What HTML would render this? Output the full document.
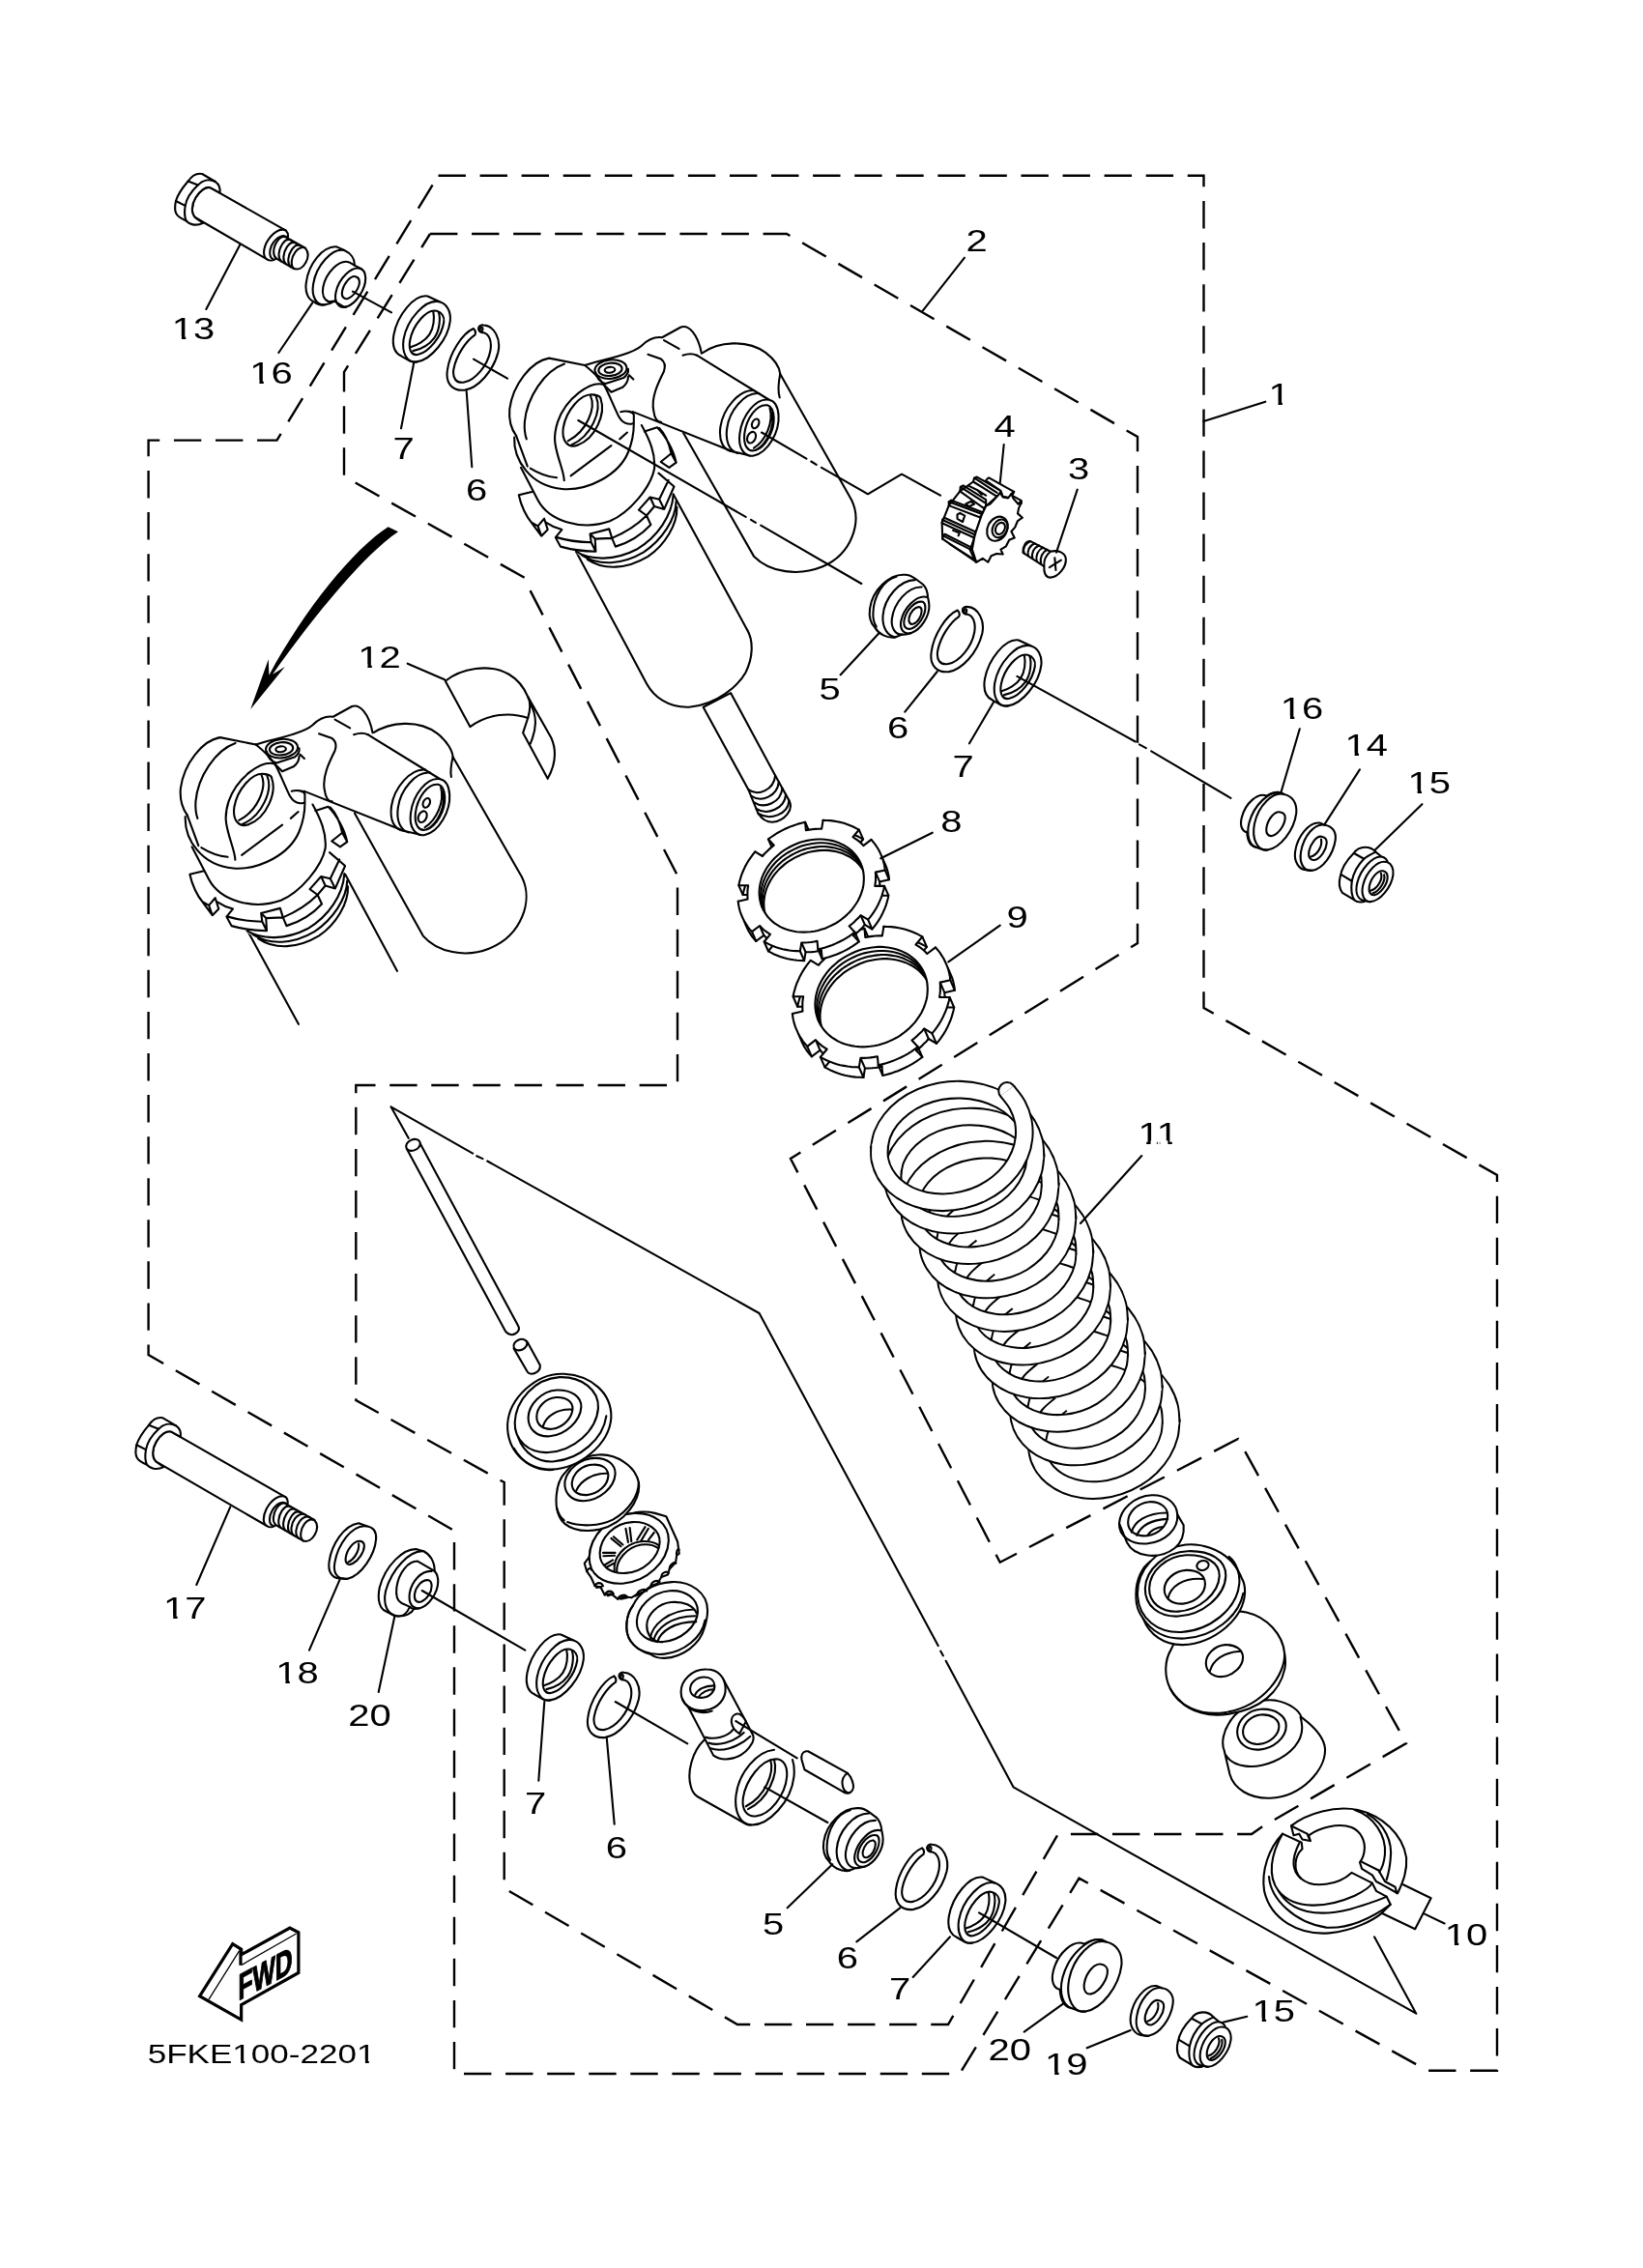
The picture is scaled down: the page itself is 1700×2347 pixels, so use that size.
<!DOCTYPE html>
<html><head><meta charset="utf-8"><title>Rear Suspension</title>
<style>
html,body{margin:0;padding:0;background:#fff;}
body{width:1700px;height:2347px;overflow:hidden;font-family:"Liberation Sans",sans-serif;}
svg{display:block;}
svg *{vector-effect:non-scaling-stroke;}
.s{fill:none;stroke:#000;stroke-width:2.1;stroke-linecap:round;stroke-linejoin:round;}
.w{fill:#fff;stroke:#000;stroke-width:2.1;stroke-linecap:round;stroke-linejoin:round;}
.d{fill:none;stroke:#000;stroke-width:2.4;stroke-dasharray:28.4 14.67;stroke-linecap:butt;stroke-linejoin:miter;}
.t{font-family:"Liberation Sans",sans-serif;font-size:31px;fill:#000;text-anchor:middle;}
text{filter:grayscale(1);}
</style></head><body>
<svg width="1700" height="2347" viewBox="0 0 1700 2347">
<rect width="1700" height="2347" fill="#fff"/>
<!-- bolts 13 / 17 : coords 10.27x zoom of region 180,170 -->
<defs>
<g id="bolthead" class="s">
 <path class="w" d="M440,185 L300,103 C240,90 185,130 150,180 C90,250 35,340 20,390 C8,450 8,490 22,520 C35,550 80,580 130,600 C160,640 230,660 310,625 L225,565 C180,520 185,430 230,355 C275,280 340,235 385,248 L488,305 C495,250 470,205 440,185 Z"/>
 <path d="M440,185 C370,150 300,175 255,220 C180,290 130,380 120,440 C108,510 112,560 130,600"/>
 <path d="M150,180 L255,220 M20,390 L120,440"/>
</g>
<g id="boltend" class="s">
 <path class="w" d="M1190,705 C1215,730 1215,760 1208,785 L1395,890 C1430,930 1430,990 1400,1045 C1370,1100 1320,1125 1275,1110 L1085,1000 C1060,1025 1020,1030 990,1010 C945,985 945,910 985,830 C1040,730 1130,670 1190,705 Z"/>
 <path d="M1208,785 C1170,735 1090,770 1045,850 C1010,910 1010,985 1048,1005"/>
 <path d="M1085,1000 C1045,965 1055,880 1095,820 C1125,775 1165,755 1200,780"/>
 <path d="M1140,1030 C1100,995 1110,910 1150,850 C1180,805 1215,790 1245,808"/>
 <path d="M1190,1060 C1150,1025 1160,940 1200,880 C1230,835 1265,820 1295,838"/>
 <path d="M1240,1090 C1200,1055 1210,970 1250,910 C1280,865 1315,850 1345,866"/>
 <path d="M1275,1110 C1235,1075 1245,990 1290,930 C1320,888 1365,875 1395,890"/>
</g>
</defs>
<g transform="translate(180,170) scale(0.09738)">
 <path class="w" d="M385,248 L1190,705 L990,1010 L225,565 C180,520 185,430 230,355 C275,280 340,235 385,248 Z"/>
 <use href="#bolthead"/><use href="#boltend"/>
</g>
<g transform="translate(139.3,1457.3) scale(0.09738)">
 <path class="w" d="M385,248 L1605,945 L1405,1250 L225,565 C180,520 185,430 230,355 C275,280 340,235 385,248 Z"/>
 <use href="#bolthead"/><use href="#boltend" transform="translate(415,240)"/>
 <g transform="translate(415,240)" class="s">
  <path class="w" d="M1395,890 L1495,948 C1530,988 1530,1048 1500,1103 C1470,1158 1420,1183 1375,1168 L1275,1110"/>
  <path d="M1325,1139 C1285,1104 1295,1019 1340,959 C1370,917 1415,904 1445,919 M1375,1168 C1335,1133 1345,1048 1390,988 C1420,946 1465,933 1495,948"/>
 </g>
</g>

<!-- collar16 / ring7 / circlip6 : coords in 6.846x zoom of region 300,240 -->
<defs>
<g id="collar16" class="s">
 <path class="w" d="M330,105 C230,100 130,230 115,360 C105,430 130,480 170,495 C190,515 225,522 250,515 C270,513 300,500 315,490 L380,530 C385,532 392,532 400,530 C470,510 540,400 535,320 C533,290 520,270 505,262 L458,237 C460,190 430,150 385,130 Z"/>
 <path d="M385,130 C300,110 185,240 165,370 C150,460 190,525 250,515"/>
 <path d="M458,237 L420,215 C350,190 255,290 235,390 C225,440 240,480 275,495 L315,490"/>
 <path d="M505,262 C440,235 345,330 325,430 C310,500 350,545 400,530"/>
 <path d="M470,318 C430,300 380,370 370,420 C362,460 385,480 410,472 C450,458 495,395 492,350 C491,335 483,323 470,318 Z"/>
</g>
<g id="ring7" class="s">
 <path class="w" d="M975,455 C880,440 760,590 735,730 C722,810 745,860 790,880 L850,915 C865,922 882,923 900,920 C1000,905 1120,760 1135,630 C1142,560 1110,510 1060,495 Z"/>
 <path d="M1060,495 C960,470 830,620 805,760 C790,860 830,930 900,920"/>
 <path d="M1040,560 C970,540 870,660 850,770 C838,840 865,880 910,868 C985,850 1075,740 1090,640 C1096,600 1075,570 1040,560 Z"/>
 <path d="M1015,563 C1025,610 1020,680 988,727 C960,770 900,805 854,817 M1053,569 C1068,610 1060,700 1023,750 C990,795 930,830 872,843"/>
</g>
<g id="clip6" class="s">
 <path d="M1300,685 C1220,720 1130,860 1115,980 C1100,1080 1160,1130 1240,1120 C1330,1105 1440,990 1475,850 C1495,760 1450,665 1370,660 C1345,657 1330,675 1338,695 C1345,712 1360,715 1368,712 C1410,722 1432,770 1420,840 C1400,950 1310,1050 1235,1065 C1180,1075 1148,1040 1160,970 C1180,870 1250,770 1310,730 C1316,718 1314,698 1300,685 Z"/>
 <ellipse cx="1356" cy="690" rx="9" ry="15" transform="rotate(15 1356 690)"/>
</g>
</defs>
<use href="#collar16" transform="translate(300,240) scale(0.14607)"/>
<use href="#ring7" transform="translate(300,240) scale(0.14607)"/>
<use href="#clip6" transform="translate(300,240) scale(0.14607)"/>

<!-- main shock: reservoir (U coords), body+rod (R coords: 6.846x of 640,620) -->
<g class="s">
 <g transform="translate(500,320) scale(0.24346)">
  <path class="w" d="M928,188 C1000,136 1120,128 1200,184 C1240,215 1260,250 1262,275 L1565,810 C1610,900 1570,1040 1440,1095 C1340,1135 1220,1120 1150,1050 L850,525 Z"/>
  <path d="M1262,275 C1255,310 1250,345 1260,375"/>
 </g>
 <g transform="translate(640,620) scale(0.14607)">
  <path class="w" d="M600,765 L920,1350 L990,1520 C1010,1550 1040,1580 1090,1580 C1180,1570 1240,1490 1210,1430 L1110,1250 L795,665 Z"/>
  <path d="M920,1350 C990,1400 1100,1350 1110,1250 M942,1395 C1012,1445 1125,1395 1135,1295 M960,1440 C1035,1490 1150,1440 1160,1340 M975,1485 C1055,1535 1175,1485 1185,1385 M990,1520 C1075,1570 1200,1525 1208,1428"/>
  <path class="w" d="M-301,-337 L200,600 C250,690 350,770 500,765 C700,750 850,610 900,520 C950,420 960,300 910,215 L388,-742 Z"/>
 </g>
</g>
<!-- inset (12) : reservoir, body (V coords: 4.1075x of 165,720), band (B coords: 6.846x of 360,540) -->
<g class="s">
 <g transform="translate(165,720) scale(0.24346)">
  <path class="w" d="M905,160 C980,110 1100,100 1180,160 C1225,195 1245,235 1247,260 L1540,770 C1590,870 1540,1020 1400,1075 C1300,1115 1180,1090 1120,1020 L830,500 Z"/>
  <path d="M1247,260 C1240,290 1235,320 1240,345"/>
  <path class="w" stroke-linecap="butt" d="M591,1396 L375,1000 L790,760 L1010,1170" style="fill:#fff"/>
 </g>
 <g transform="translate(360,540) scale(0.14607)">
  <path class="w" d="M690,1128 C800,1040 1000,1000 1140,1080 C1200,1115 1250,1180 1275,1240 L1440,1530 C1480,1620 1470,1720 1415,1820 L1240,1495 L1275,1390 C1150,1345 990,1360 865,1452 Z"/>
  <path d="M1275,1240 C1300,1290 1290,1340 1275,1390 M1290,1285 C1345,1380 1335,1470 1292,1572"/>
 </g>
</g>
<!-- curved arrow (A coords: 9.128x of 240,530) -->
<g transform="translate(240,530) scale(0.10956)">
 <path fill="#000" stroke="none" d="M1475,140 L1570,185 C1250,400 800,950 385,1530 L500,1460 L175,1862 L345,1390 L350,1540 C700,900 1150,350 1475,140 Z"/>
</g>

<!-- shock head (used twice). U coords: 4.1075x of region 500,320 ; N coords: 6.846x of region 520,440 -->
<defs>
<g id="head" class="s">
 <g transform="translate(500,320) scale(0.24346)">
  <!-- silhouette fill -->
  <path fill="#fff" stroke="none" d="M432,238 L280,208 C205,220 125,320 112,425 C108,470 120,510 140,538 L200,770 L260,880 L400,1040 C500,1110 700,1080 815,850 L810,800 L730,640 L640,445 L1055,603 C1120,640 1260,560 1255,450 C1252,410 1240,390 1215,385 L928,188 C912,104 872,64 840,76 L760,120 C728,116 696,132 672,156 C640,184 560,204 480,224 Z"/>
  <path d="M432,238 L280,208 C205,220 125,320 112,425 C108,470 120,510 140,538"/>
  <path d="M345,232 C260,262 185,375 176,480 C174,510 178,535 184,552 M140,538 L188,668"/>
  <path d="M200,676 C232,696 272,712 312,716"/>
  <path d="M512,320 C456,304 352,376 316,480 C296,544 304,576 320,632 C332,672 344,704 344,728"/>
  <path d="M432,238 C464,264 496,296 512,320 C528,344 552,408 576,456 C592,484 616,492 636,486"/>
  <!-- eye hole -->
  <path d="M472,364 C416,352 352,432 340,504 C332,560 360,592 400,578"/>
  <path d="M456,368 C480,420 440,520 360,560 M480,372 C505,430 460,540 376,576 M472,364 C490,366 500,375 500,384 C520,440 480,550 400,578"/>
  <path d="M372,708 L544,580 M580,552 L612,524"/>
  <!-- body top ellipse -->
  <path d="M132,544 C128,640 200,752 336,764 C448,772 576,704 616,608 C632,568 640,528 640,488 M584,436 C610,430 635,435 640,448 L640,488"/>
  <!-- boss -->
  <ellipse cx="542" cy="255" rx="68" ry="40" transform="rotate(-6 542 255)"/>
  <ellipse cx="540" cy="256" rx="50" ry="27" transform="rotate(-6 540 256)"/>
  <ellipse cx="538" cy="258" rx="22" ry="12" transform="rotate(-6 538 258)"/>
  <path d="M478,268 C480,290 495,310 520,316 L596,292 C612,280 618,268 616,254 M512,320 L544,352 L592,332 C608,320 616,304 616,288 M620,280 L638,298"/>
  <!-- neck -->
  <path d="M432,238 L480,224 C560,204 640,184 672,156 C696,132 728,116 760,120 L840,76 C872,64 912,104 928,188"/>
  <path d="M768,132 L832,168 M848,196 C872,188 892,188 908,196"/>
  <path d="M700,192 L756,212 C772,224 776,240 768,264 C744,312 712,376 724,432 C728,464 740,480 756,480"/>
  <!-- tube -->
  <path d="M908,196 L1150,345 M636,436 L1055,603"/>
  <path d="M1150,345 C1090,340 1020,420 1008,500 C1000,560 1020,600 1060,605"/>
  <path d="M1172,358 C1112,352 1046,430 1036,506 C1028,560 1045,602 1082,612"/>
  <path d="M1150,345 L1215,385 M1060,605 L1135,622"/>
  <path class="w" d="M1215,385 C1160,375 1100,450 1090,530 C1082,590 1110,630 1150,622 C1210,610 1260,520 1255,450 C1252,410 1240,390 1215,385 Z"/>
  <path d="M1207,408 C1162,402 1118,465 1110,530 C1105,580 1125,608 1155,600 C1200,588 1238,515 1235,460 C1233,430 1225,413 1207,408 Z"/>
  <path d="M1218,420 C1235,480 1200,560 1150,590 M1228,440 C1240,500 1205,575 1160,598"/>
  <ellipse cx="1157" cy="486" rx="14" ry="21" transform="rotate(25 1157 486)"/>
  <ellipse cx="1140" cy="545" rx="17" ry="25" transform="rotate(25 1140 545)"/>
 </g>
 <g transform="translate(520,440) scale(0.14607)">
  <path d="M130,300 L250,530 C330,680 560,750 760,680 C900,620 1050,440 1075,310 C1085,200 1040,100 985,0"/>
  <path d="M215,470 L115,495 C130,570 170,650 205,690 L275,785 L320,740 L295,662 L250,715 L275,785 M205,690 L250,715"/>
  <path d="M310,690 C340,710 380,730 420,740 L375,795 L410,860 C480,880 570,893 660,895 L655,805 L620,770 L628,830 L660,895 M385,795 C450,815 540,828 628,830 M620,770 L755,735 L775,800 L655,805 M775,800 L800,860 C900,830 990,770 1050,705 L1020,640 C960,700 870,760 775,800"/>
  <path d="M1020,640 L965,600 L1045,510 L1110,525 L1145,595 L1075,575 L1045,510 M1075,575 L1020,640 M1110,525 L1175,390 M1145,595 L1215,435 L1105,340"/>
  <path d="M520,895 C620,960 800,960 950,880 C1100,790 1200,640 1210,490 M560,920 C680,1000 850,990 1000,900 C1130,810 1225,670 1230,540 M600,950 C720,1030 880,1020 1030,930 C1150,850 1240,700 1235,580"/>
  <path d="M1005,45 L1095,15 C1150,70 1210,170 1230,265 L1180,300 L1120,260 L1195,200 C1180,130 1150,60 1110,20 M1195,200 L1230,265"/>
 </g>
</g>
</defs>
<use href="#head"/>
<use href="#head" transform="translate(-340.4,392.5)"/>

<!-- knob 4 + screw 3 : K coords 9.128x of 950,470 -->
<g class="s" transform="translate(950,470) scale(0.10956)">
 <!-- back bars -->
 <path class="w" d="M520,260 L530,225 L555,215 L780,345 L770,380 L745,400 Z"/>
 <path class="w" d="M640,250 L650,235 L668,222 L905,355 L890,390 L860,410 L800,400 L780,345 Z"/>
 <path class="w" d="M395,350 L400,310 L425,295 L640,430 L640,490 L620,510 Z"/>
 <path class="w" d="M290,485 L290,450 L312,435 L600,545 L600,575 L580,595 Z"/>
 <path class="w" d="M225,650 L230,620 L247,600 L545,735 L530,790 Z"/>
 <path class="w" d="M230,800 L235,770 L252,755 L500,880 L490,905 L545,1020 L530,1005 Z"/>
 <path d="M530,225 L745,365 M400,310 L625,455 M290,450 L585,560 M230,620 L535,760 M235,770 L495,900 M300,850 L520,990"/>
 <path d="M520,260 L395,350 M395,350 L290,485 M290,485 L225,650 M225,650 L230,800 M640,490 L745,400 M600,575 L640,490 M545,735 L600,575 M500,880 L530,790"/>
 <path d="M450,470 L500,445 L530,470 L480,495 Z M370,570 L395,555 L440,580 L420,640 L370,610 Z M480,300 L560,340 L600,380 M560,340 L640,390 M330,720 L390,745 L380,770"/>
 <!-- front face -->
 <path class="w" d="M775,365 L800,405 L850,415 L880,375 L900,420 L945,470 L975,460 L950,510 L940,560 L985,600 L940,630 L915,690 L880,730 L910,790 L860,810 L830,870 L780,900 L800,945 L740,940 L690,960 L660,1020 L610,985 L550,1020 L510,900 L530,790 L545,735 L600,575 L640,490 L680,470 L745,400 Z"/>
 <path d="M880,375 L905,355 M945,470 L975,440 L905,400 M975,440 L975,460"/>
 <ellipse cx="748" cy="705" rx="92" ry="120" transform="rotate(28 748 705)"/>
 <ellipse cx="772" cy="702" rx="68" ry="90" transform="rotate(28 772 702)"/>
 <ellipse cx="775" cy="702" rx="42" ry="58" transform="rotate(28 775 702)"/>
 <!-- screw -->
 <path class="w" d="M1250,920 L1060,822 C1020,815 985,870 990,930 L1190,1060 Z"/>
 <path d="M1060,822 C1010,845 985,890 1000,935 M1100,842 C1050,865 1028,915 1040,960 M1140,862 C1090,885 1068,935 1080,985 M1180,882 C1130,905 1108,960 1120,1010 M1220,902 C1170,925 1148,980 1160,1035"/>
 <path class="w" d="M1250,920 C1320,900 1390,930 1395,990 C1400,1060 1330,1160 1250,1165 C1200,1165 1185,1110 1190,1060 C1185,1010 1205,955 1250,920 Z"/>
 <path d="M1240,1070 L1350,1000 M1290,980 L1300,1095"/>
</g>

<!-- bushing 5 : coords 7.468x of 880,580 -->
<defs>
<g id="bush5" class="s" transform="translate(880,580) scale(0.13390)">
 <path class="w" d="M415,110 C300,105 170,230 150,370 C140,440 160,490 190,520 C220,570 280,600 340,595 L400,572 C420,575 445,570 470,560 C545,535 610,430 608,350 C607,315 600,295 598,285 C596,250 585,210 560,185 L500,140 C480,125 450,108 415,110 Z"/>
 <path d="M355,125 C250,150 180,280 175,400 C172,450 185,490 200,512"/>
 <path d="M500,150 C380,150 260,290 250,430 C245,520 290,590 350,592"/>
 <path d="M550,205 C440,200 335,330 320,450 C312,520 345,575 400,572"/>
 <path d="M592,283 C510,260 410,370 390,470 C378,540 420,575 470,560"/>
 <path d="M560,320 C500,305 430,385 415,460 C405,515 435,540 475,525 C530,505 580,420 578,360 C577,340 572,327 560,320 Z"/>
 <path d="M535,360 C500,352 462,400 452,445 C446,480 462,498 488,490 C522,478 550,425 550,390 C550,375 545,364 535,360 Z"/>
</g>
</defs>
<use href="#bush5"/>
<use href="#clip6" transform="translate(800.8,531.5) scale(0.14607)"/>
<use href="#ring7" transform="translate(911.6,596) scale(0.14607)"/>

<!-- collar16 (right, flange front), washer 14, nut 15 : W coords 9.128x of 1270,800 -->
<defs>
<g id="collarR" class="s">
 <path class="w" d="M370,215 C290,180 170,280 135,420 C115,500 140,550 185,560 C190,640 220,690 270,700 L330,722 C345,727 362,728 380,725 C500,705 630,540 650,380 C660,280 610,215 535,200 L505,185 C460,175 410,190 370,215 Z"/>
 <path d="M505,185 C400,160 250,300 205,470 C175,590 210,680 270,700"/>
 <path d="M535,200 C430,170 290,310 255,480 C225,630 290,740 380,725"/>
 <path d="M500,370 C450,355 385,430 370,510 C358,575 390,605 430,590 C490,570 545,480 545,420 C545,395 525,375 500,370 Z"/>
</g>
<g id="washer14" class="s">
 <path class="w" d="M870,470 C770,460 660,600 640,740 C625,840 680,910 740,915 L800,920 C900,905 1000,770 1020,630 C1030,550 985,500 920,490 Z"/>
 <path d="M920,490 C820,470 720,600 695,740 C675,850 720,930 800,920"/>
 <path d="M890,600 C840,590 785,670 770,740 C760,800 790,830 830,820 C885,800 935,720 938,660 C940,625 920,605 890,600 Z"/>
 <path d="M885,625 C900,690 850,770 790,790"/>
</g>
<g id="nut15" class="s">
 <path class="w" d="M1300,700 C1250,700 1210,730 1190,760 C1120,830 1075,920 1065,980 C1050,1040 1055,1090 1085,1130 L1200,1200 C1230,1225 1280,1222 1310,1205 C1320,1212 1335,1216 1350,1215 C1440,1210 1550,1080 1565,960 C1572,900 1545,855 1515,845 C1505,810 1480,795 1455,790 L1400,745 C1380,720 1340,700 1300,700 Z"/>
 <path d="M1200,760 L1290,810 M1075,960 L1175,1020"/>
 <path d="M1400,745 C1350,770 1310,790 1290,810 C1230,870 1190,950 1175,1020 C1165,1100 1170,1160 1200,1200"/>
 <path d="M1455,790 C1380,780 1260,900 1225,1040 C1205,1130 1230,1190 1290,1205"/>
 <path d="M1500,840 C1420,820 1310,930 1280,1060 C1260,1150 1290,1215 1350,1215"/>
 <path d="M1470,925 C1420,915 1355,990 1340,1070 C1330,1130 1355,1160 1395,1150 C1450,1135 1510,1050 1512,985 C1513,950 1495,930 1470,925 Z"/>
 <path d="M1450,945 C1470,1000 1420,1090 1355,1110 M1480,960 C1495,1020 1440,1110 1375,1135"/>
</g>
</defs>
<g transform="translate(1270,800) scale(0.10956)"><use href="#collarR"/><use href="#washer14"/><use href="#nut15"/></g>

<!-- washer 18, collar 20 (left) : BL coords 4.832x of 130,1450 -->
<defs>
<g id="collar20" class="s">
 <path class="w" d="M1455,740 C1390,735 1300,820 1270,930 C1255,1000 1275,1040 1300,1050 L1345,1073 C1375,1080 1400,1075 1420,1030 C1435,1040 1452,1040 1470,1035 C1515,1025 1560,960 1562,905 C1563,875 1550,855 1545,850 C1545,800 1520,765 1490,750 Z"/>
 <path d="M1490,750 C1420,745 1330,840 1300,950 C1285,1020 1310,1070 1360,1075 C1400,1078 1430,1060 1440,1040"/>
 <path d="M1545,850 L1460,800 C1410,800 1365,860 1355,930 C1350,970 1360,1000 1380,1010 L1425,1030"/>
 <path d="M1530,850 C1480,845 1430,900 1420,960 C1412,1010 1435,1040 1470,1035"/>
 <path d="M1515,895 C1480,890 1450,930 1445,965 C1441,995 1455,1010 1478,1003 C1505,993 1530,955 1530,925 C1530,908 1525,898 1515,895 Z"/>
</g>
<g id="washer18" class="s">
 <path class="w" d="M1165,610 C1090,620 1030,720 1018,800 C1010,850 1030,880 1060,885 L1110,888 C1180,870 1245,770 1252,690 C1255,650 1235,630 1205,625 Z"/>
 <path d="M1205,625 C1130,615 1060,720 1045,810 C1035,870 1070,895 1110,888"/>
 <path d="M1175,700 C1140,695 1105,745 1100,785 C1097,815 1115,822 1135,812 C1165,795 1192,755 1193,725 C1193,710 1187,702 1175,700 Z"/>
 <path d="M1165,712 C1170,745 1145,790 1112,805"/>
</g>
</defs>
<g transform="translate(130,1450) scale(0.20694)"><use href="#washer18"/><use href="#collar20"/></g>

<!-- middle stack: M coords 5.968x of 500,1400 -->
<g class="s" transform="translate(500,1400) scale(0.16755)">
 <!-- P4 threaded collar -->
 <path class="w" d="M1165,1415 C1280,1410 1385,1480 1385,1590 C1385,1640 1375,1670 1365,1700 C1340,1800 1230,1880 1120,1885 C1080,1886 1050,1875 1035,1862 C990,1850 940,1825 910,1780 C870,1720 880,1620 925,1560 C960,1480 1050,1420 1165,1415 Z"/>
 <path d="M925,1560 C880,1620 870,1720 910,1780 C950,1840 1030,1870 1120,1860 C1240,1845 1350,1760 1370,1650"/>
 <path class="w" d="M1150,1470 C1040,1480 950,1570 948,1660 C947,1740 1020,1790 1110,1785 C1220,1775 1320,1690 1325,1600 C1328,1520 1250,1462 1150,1470 Z"/>
 <path d="M1160,1540 C1080,1548 1012,1615 1010,1680 C1009,1740 1040,1770 1075,1785 M1160,1540 C1235,1533 1300,1560 1318,1610"/>
 <path d="M1030,1770 C1040,1680 1140,1590 1300,1585 M1050,1780 C1070,1700 1160,1625 1312,1625 M1075,1785 C1095,1720 1180,1660 1315,1660"/>
 <!-- P3 toothed ring -->
 <path class="w" d="M625,1300 L640,1350 L665,1385 L690,1440 L725,1448 L750,1495 L790,1488 L830,1520 L870,1505 L915,1512 L950,1490 L990,1475 L1035,1440 L1075,1425 L1100,1385 L1140,1370 L1150,1335 L1188,1295 L1195,1250 L1210,1240 L1200,1165 L1130,1010 L1060,990 C1000,975 940,985 930,990 C780,1000 660,1130 655,1260 Z"/>
 <path d="M690,1440 C700,1415 730,1415 740,1440 M750,1495 C765,1465 795,1465 805,1490 M830,1520 C845,1490 880,1490 890,1510 M950,1490 C960,1460 1000,1455 1010,1470 M1035,1440 C1040,1410 1075,1400 1090,1415 M1100,1385 C1100,1355 1135,1345 1145,1360 M1150,1335 C1150,1305 1180,1290 1190,1300 M1195,1250 C1190,1225 1200,1210 1210,1215 M640,1350 C645,1330 660,1325 668,1340 M700,1450 L740,1440 M770,1500 L800,1490 M850,1520 L890,1512 M940,1502 L965,1490"/>
 <path class="w" d="M930,990 C780,1000 660,1130 655,1260 C652,1370 740,1430 860,1425 C1010,1415 1140,1290 1145,1160 C1148,1060 1060,985 930,990 Z"/>
 <path d="M920,1045 C810,1050 725,1140 720,1235 C717,1320 790,1365 880,1360 C990,1352 1085,1265 1090,1170 C1093,1095 1020,1040 920,1045 Z"/>
 <path d="M810,1345 C800,1270 870,1180 970,1165 C1020,1160 1060,1170 1085,1190 M825,1352 C818,1285 885,1200 975,1185 C1020,1180 1055,1188 1078,1205"/>
 <path d="M880,1085 L895,1170 M905,1080 L915,1165 M1000,1075 L950,1155 M1020,1085 L975,1160 M1055,1110 L1020,1155 M790,1145 L850,1195 M805,1135 L862,1185 M740,1235 L815,1235 M742,1255 L812,1252 M750,1310 L800,1280 M760,1325 L805,1300"/>
 <!-- P2 cup -->
 <path class="w" d="M710,630 C820,620 940,700 960,800 C975,900 880,1050 720,1090 C600,1115 500,1080 470,1010 C440,950 440,800 510,735 C560,670 640,635 710,630 Z"/>
 <path d="M520,1045 C600,1075 720,1070 800,1030 C900,975 960,880 960,800 M455,960 C465,1000 480,1020 500,1035"/>
 <path class="w" d="M690,650 C600,650 520,720 505,790 C495,860 540,915 620,915 C720,910 810,830 815,750 C818,690 770,650 690,650 Z"/>
 <path d="M680,690 C610,690 555,745 548,800 C543,850 580,880 640,878 C710,872 770,815 772,760 C773,715 735,688 680,690 Z"/>
 <path d="M575,850 C600,790 680,740 770,745"/>
 <!-- P1 large cup washer -->
 <path class="w" d="M500,130 C330,120 160,280 150,440 C145,600 260,720 420,720 C600,715 780,560 790,400 C795,250 670,140 500,130 Z"/>
 <path d="M190,590 C240,680 330,730 430,722 M215,520 C250,620 340,680 440,670 C600,655 740,530 760,390"/>
 <path d="M470,150 C320,160 200,290 195,430 C192,540 280,620 400,615 C560,605 700,480 710,340 C715,230 610,145 470,150 Z"/>
 <path d="M455,230 C360,235 280,320 278,400 C277,470 330,520 410,515 C510,505 600,420 605,335 C608,270 545,228 455,230 Z"/>
 <path d="M450,275 C380,280 330,340 330,395 C330,445 370,475 425,470 C495,462 550,400 552,345 C553,300 510,272 450,275 Z"/>
 <path d="M370,450 C390,390 460,345 545,350"/>
</g>
<use href="#ring7" transform="translate(438,1625) scale(0.14607)"/>
<use href="#clip6" transform="translate(445.4,1634.3) scale(0.14607)"/>

<!-- rod + pin : RD coords 6.319x of 380,1120 -->
<g class="s" transform="translate(380,1120) scale(0.15825)">
 <path class="w" d="M258,435 L905,1630 C925,1655 960,1660 985,1630 C995,1615 992,1600 985,1590 L343,395 Z"/>
 <ellipse class="w" cx="300" cy="410" rx="48" ry="35" transform="rotate(-25 300 410)"/>
 <path class="w" d="M958,1740 L1045,1890 C1062,1925 1135,1900 1130,1850 L1045,1695 Z"/>
 <ellipse class="w" cx="1001" cy="1716" rx="46" ry="34" transform="rotate(-25 1001 1716)"/>
</g>

<!-- rod end eye + dowel : EY coords 6.846x of 690,1710 -->
<g class="s" transform="translate(690,1710) scale(0.14607)">
 <!-- eye body -->
 <path fill="#fff" stroke="none" d="M265,620 C180,700 140,850 170,950 C180,990 200,1010 215,1020 L560,1215 C575,1222 590,1223 600,1222 C720,1225 880,1060 900,880 C905,830 900,790 890,760 L610,600 Z"/>
 <path d="M265,620 C180,700 140,850 170,950 C180,990 200,1010 215,1020 L560,1215 C575,1222 590,1223 600,1222 C720,1225 880,1060 900,880 C905,830 900,790 890,760"/>
 <path d="M760,690 C640,700 510,850 490,1010 C475,1130 520,1220 600,1222"/>
 <path d="M770,755 C670,760 560,900 540,1030 C528,1120 570,1165 630,1160 C730,1150 840,1010 850,880 C855,810 830,755 770,755 Z"/>
 <path d="M735,765 C760,850 700,1020 560,1090 M760,760 C790,860 720,1040 575,1110"/>
 <!-- stem -->
 <path class="w" d="M125,335 L330,730 C400,780 540,760 605,640 C615,620 615,600 610,585 L560,490 L400,190 Z"/>
 <path d="M275,600 C330,620 430,600 470,545 M295,640 C360,665 470,640 545,568 M310,680 C380,705 500,680 590,595"/>
 <path class="w" d="M495,435 C470,440 455,465 458,495 C462,530 490,560 515,575 L560,490 C545,460 520,430 495,435 Z"/>
 <path class="w" d="M280,120 C180,115 100,200 100,280 C100,370 180,420 270,410 C360,400 420,330 415,250 C410,170 360,120 280,120 Z"/>
 <path d="M110,330 C150,420 250,440 320,415"/>
 <path d="M265,175 C205,175 165,220 165,260 C165,300 205,325 255,320 C305,315 340,275 338,235 C336,200 310,175 265,175 Z"/>
 <path d="M200,300 C215,265 265,235 330,235 M225,315 C245,285 290,260 335,262"/>
 <!-- dowel -->
 <path class="w" d="M985,700 C960,705 950,730 955,760 L975,830 L1245,985 C1270,1005 1300,1000 1315,975 C1330,950 1320,920 1300,880 L1280,855 L1000,700 Z"/>
 <path d="M1280,855 C1250,870 1235,910 1245,945 C1250,970 1265,990 1285,995"/>
</g>
<use href="#bush5" transform="translate(-47.8,1276.4)"/>

<!-- bottom-right cluster -->
<use href="#clip6" transform="translate(764.1,1812.3) scale(0.14607)"/>
<use href="#ring7" transform="translate(874.5,1876.2) scale(0.14607)"/>
<g transform="translate(1133.2,2045.4) scale(1.25) translate(-1319.5,-850.6) translate(1270,800) scale(0.10956)"><use href="#collarR"/></g>
<g transform="translate(1194.9,2082) scale(1.05) translate(-1363.9,-877.2) translate(1270,800) scale(0.10956)"><use href="#washer14"/></g>
<g transform="translate(-167.9,1205.7) translate(1270,800) scale(0.10956)"><use href="#nut15"/></g>

<!-- right stack below spring: RS coords 6.085x of 1150,1560 ; Q1 in S2 coords 5.477x of 980,1330 -->
<g class="s" transform="translate(1150,1560) scale(0.16433)">
 <!-- Q4 cone -->
 <path class="w" d="M1035,1215 C1120,1230 1185,1280 1195,1320 C1290,1390 1340,1450 1345,1520 C1350,1650 1200,1820 1000,1830 C870,1835 770,1770 745,1680 L710,1530 C690,1480 705,1410 745,1350 C800,1260 930,1200 1035,1215 Z"/>
 <path d="M720,1560 C770,1640 900,1650 1020,1600 C1130,1555 1205,1470 1200,1380 C1198,1355 1195,1335 1190,1320"/>
 <path d="M940,1270 C860,1275 795,1340 792,1410 C790,1480 850,1530 930,1525 C1020,1518 1100,1450 1100,1375 C1100,1310 1030,1265 940,1270 Z"/>
 <path d="M940,1305 C880,1310 830,1360 828,1410 C827,1460 870,1495 930,1490 C1000,1484 1055,1430 1055,1378 C1055,1332 1005,1300 940,1305 Z"/>
 <!-- Q3 big washer -->
 <path class="w" d="M850,660 C980,690 1080,800 1090,920 C1097,960 1098,990 1090,1020 C1060,1160 940,1270 740,1300 C620,1320 500,1290 430,1215 C400,1190 385,1165 370,1140 C330,1060 335,960 375,895 C450,720 700,630 850,660 Z"/>
 <path d="M370,1140 C420,1250 560,1315 720,1290 C960,1250 1095,1050 1090,920"/>
 <path d="M715,865 C650,870 595,925 595,980 C595,1035 640,1070 700,1065 C770,1058 828,1000 828,945 C828,895 780,862 715,865 Z"/>
 <path d="M620,1030 C640,960 710,910 815,905"/>
 <!-- Q2 piston -->
 <path class="w" d="M435,240 C550,215 700,260 780,370 C800,400 812,420 820,445 C835,470 842,500 840,540 C830,700 650,855 450,865 C330,868 240,800 200,700 C170,660 153,610 155,560 C150,450 200,370 245,340 C300,280 370,250 435,240 Z"/>
 <path d="M245,340 C190,400 160,480 165,560 C175,700 290,790 440,785 C620,775 790,640 805,480 C810,420 790,350 740,310"/>
 <path d="M200,700 C260,790 350,830 460,825 C640,815 800,690 830,540"/>
 <path d="M480,275 C340,280 215,390 212,510 C210,620 300,690 420,685 C570,678 715,560 720,430 C722,330 620,270 480,275 Z"/>
 <path d="M470,300 C350,305 240,400 238,510 C236,600 315,660 420,655 C550,648 675,545 680,430 C682,345 590,296 470,300 Z"/>
 <path d="M470,395 C395,400 335,455 333,515 C332,575 385,610 450,606 C530,600 590,540 590,480 C590,425 540,392 470,395 Z"/>
 <path d="M355,575 C370,500 450,440 575,450"/>
 <ellipse cx="575" cy="365" rx="38" ry="30" transform="rotate(-15 575 365)"/>
</g>
<g class="s" transform="translate(980,1330) scale(0.18258)">
 <path class="w" d="M1160,1190 C1060,1195 980,1270 975,1350 L1020,1460 C1060,1540 1200,1560 1290,1490 C1330,1455 1345,1410 1340,1360 L1305,1300 C1300,1235 1245,1188 1160,1190 Z"/>
 <path d="M975,1350 C972,1420 1040,1470 1130,1465 C1240,1455 1310,1380 1305,1300"/>
 <path d="M1145,1228 C1075,1235 1025,1290 1025,1345 C1025,1395 1070,1425 1130,1420 C1200,1412 1250,1360 1250,1305 C1250,1258 1205,1224 1145,1228 Z"/>
 <path d="M1045,1400 C1060,1340 1130,1290 1245,1290 M1075,1418 C1095,1370 1150,1330 1250,1325 M1135,1420 C1150,1390 1190,1370 1225,1370"/>
</g>

<!-- part 10 : T coords 6.085x of 1290,1850 -->
<g class="s" transform="translate(1290,1850) scale(0.16433)">
 <!-- lower/front half -->
 <path class="w" d="M225,290 C140,380 90,520 110,650 C150,830 330,930 520,915 C680,900 800,830 850,790 L905,735 L880,685 L815,650 L790,600 L660,535 C580,610 420,640 340,570 C290,520 300,430 350,385 L345,345 Z"/>
 <path d="M225,290 C150,420 130,560 200,650 C300,770 500,760 680,680 C740,650 780,620 790,600"/>
 <path d="M200,650 C280,790 450,815 650,765 C750,735 840,705 880,685"/>
 <path d="M140,560 C150,700 300,850 500,880 C650,890 800,810 905,735"/>
 <path d="M330,350 C285,440 280,520 340,570"/>
 <!-- upper/back half -->
 <path class="w" d="M280,240 C380,160 560,110 700,140 C850,175 980,290 1005,440 C1010,520 990,580 950,665 L870,620 L815,590 L790,550 L725,510 L712,470 C720,460 735,440 740,400 C750,340 720,275 660,250 C580,220 460,250 390,300 L400,335 L350,325 L330,290 L295,300 Z"/>
 <path d="M280,240 L380,290 L390,300 M380,290 L400,335"/>
 <path d="M680,140 C800,180 880,300 870,420 C865,470 850,510 835,530 M760,165 C870,230 920,340 905,450 C900,510 890,550 880,580"/>
 <path d="M720,465 L830,520 L870,590 L935,625 L945,665 M830,520 L835,530"/>
 <!-- bracket -->
 <path d="M985,610 L1160,695 L1060,890 L850,790 M1120,795 L1245,855"/>
</g>

<!-- castle nuts 8,9 : C8 coords 6.319x of 750,830 -->
<defs>
<clipPath id="cnhole"><path d="M909,501 L908,480 L906,460 L902,440 L896,421 L889,402 L880,384 L870,367 L858,350 L845,335 L831,320 L815,307 L798,294 L780,283 L761,274 L742,265 L721,258 L699,252 L677,248 L655,245 L632,243 L608,243 L585,245 L561,248 L538,252 L514,257 L491,264 L468,273 L446,283 L424,294 L403,306 L382,319 L363,333 L345,349 L327,365 L311,382 L296,400 L282,419 L270,438 L259,458 L249,479 L241,499 L235,520 L230,541 L227,562 L225,583 L225,603 L227,624 L230,644 L235,664 L241,683 L249,701 L259,719 L270,736 L282,752 L296,767 L311,781 L327,794 L345,805 L363,816 L382,825 L403,833 L424,839 L446,844 L468,848 L491,850 L514,851 L538,850 L561,848 L585,845 L608,840 L632,833 L655,826 L677,816 L699,806 L721,795 L742,782 L761,768 L780,753 L798,737 L815,720 L831,703 L845,684 L858,665 L870,646 L880,626 L889,605 L896,584 L902,564 L906,543 L908,522 L909,501 Z"/></clipPath>
<g id="castle" class="s">
<path class="w" d="M552,193 L557,247 L578,243 L598,240 L619,238 L639,237 L660,237 L669,181 L693,182 L716,183 L739,186 L761,190 L783,194 L805,200 L826,207 L846,215 L866,223 L885,233 L904,243 L864,291 L879,301 L894,311 L908,322 L921,334 L933,347 L984,308 L997,323 L1010,339 L1021,356 L1032,373 L1041,391 L1049,409 L1057,428 L1063,447 L1068,467 L1072,487 L1074,507 L1012,521 L1013,538 L1013,556 L1013,574 L1011,593 L1008,611 L1070,611 L1066,632 L1060,653 L1054,674 L1046,695 L1037,715 L1028,735 L1017,755 L1005,775 L992,794 L978,813 L963,831 L915,802 L902,818 L887,832 L872,847 L857,860 L840,873 L877,913 L858,927 L838,941 L817,954 L796,966 L774,977 L752,987 L729,997 L706,1005 L683,1013 L660,1019 L636,1025 L631,971 L610,975 L590,978 L569,980 L549,981 L528,981 L519,1037 L495,1036 L472,1035 L449,1032 L427,1028 L405,1024 L383,1018 L362,1011 L342,1003 L322,995 L303,985 L284,975 L324,927 L309,917 L294,907 L280,896 L267,884 L255,871 L204,910 L191,895 L178,879 L167,862 L156,845 L147,827 L139,809 L131,790 L125,771 L120,751 L116,731 L114,711 L176,697 L175,680 L175,662 L175,644 L177,625 L180,607 L118,607 L122,586 L128,565 L134,544 L142,523 L151,503 L160,483 L171,463 L183,443 L196,424 L210,405 L225,387 L273,416 L286,400 L301,386 L316,371 L331,358 L348,345 L311,305 L330,291 L350,277 L371,264 L392,252 L414,241 L436,231 L459,221 L482,213 L505,205 L528,199 Z"/>
<path d="M525,131 L552,193 M530,185 L557,247 M633,175 L660,237 M642,119 L669,181 M877,181 L904,243 M837,229 L864,291 M906,285 L933,347 M957,246 L984,308 M1047,445 L1074,507 M985,459 L1012,521 M981,549 L1008,611 M1043,549 L1070,611 M936,769 L963,831 M888,740 L915,802 M813,811 L840,873 M850,851 L877,913 M609,963 L636,1025 M604,909 L631,971 M501,919 L528,981 M492,975 L519,1037 M257,913 L284,975 M297,865 L324,927 M228,809 L255,871 M177,848 L204,910 M87,649 L114,711 M149,635 L176,697 M153,545 L180,607 M91,545 L118,607 M198,325 L225,387 M246,354 L273,416 M321,283 L348,345 M284,243 L311,305"/>
<path class="w" d="M525,131 L530,185 L551,181 L571,178 L592,176 L612,175 L633,175 L642,119 L666,120 L689,121 L712,124 L734,128 L756,132 L778,138 L799,145 L819,153 L839,161 L858,171 L877,181 L837,229 L852,239 L867,249 L881,260 L894,272 L906,285 L957,246 L970,261 L983,277 L994,294 L1005,311 L1014,329 L1022,347 L1030,366 L1036,385 L1041,405 L1045,425 L1047,445 L985,459 L986,476 L986,494 L986,512 L984,531 L981,549 L1043,549 L1039,570 L1033,591 L1027,612 L1019,633 L1010,653 L1001,673 L990,693 L978,713 L965,732 L951,751 L936,769 L888,740 L875,756 L860,770 L845,785 L830,798 L813,811 L850,851 L831,865 L811,879 L790,892 L769,904 L747,915 L725,925 L702,935 L679,943 L656,951 L633,957 L609,963 L604,909 L583,913 L563,916 L542,918 L522,919 L501,919 L492,975 L468,974 L445,973 L422,970 L400,966 L378,962 L356,956 L335,949 L315,941 L295,933 L276,923 L257,913 L297,865 L282,855 L267,845 L253,834 L240,822 L228,809 L177,848 L164,833 L151,817 L140,800 L129,783 L120,765 L112,747 L104,728 L98,709 L93,689 L89,669 L87,649 L149,635 L148,618 L148,600 L148,582 L150,563 L153,545 L91,545 L95,524 L101,503 L107,482 L115,461 L124,441 L133,421 L144,401 L156,381 L169,362 L183,343 L198,325 L246,354 L259,338 L274,324 L289,309 L304,296 L321,283 L284,243 L303,229 L323,215 L344,202 L365,190 L387,179 L409,169 L432,159 L455,151 L478,143 L501,137 Z"/>
<path class="w" d="M909,501 L908,480 L906,460 L902,440 L896,421 L889,402 L880,384 L870,367 L858,350 L845,335 L831,320 L815,307 L798,294 L780,283 L761,274 L742,265 L721,258 L699,252 L677,248 L655,245 L632,243 L608,243 L585,245 L561,248 L538,252 L514,257 L491,264 L468,273 L446,283 L424,294 L403,306 L382,319 L363,333 L345,349 L327,365 L311,382 L296,400 L282,419 L270,438 L259,458 L249,479 L241,499 L235,520 L230,541 L227,562 L225,583 L225,603 L227,624 L230,644 L235,664 L241,683 L249,701 L259,719 L270,736 L282,752 L296,767 L311,781 L327,794 L345,805 L363,816 L382,825 L403,833 L424,839 L446,844 L468,848 L491,850 L514,851 L538,850 L561,848 L585,845 L608,840 L632,833 L655,826 L677,816 L699,806 L721,795 L742,782 L761,768 L780,753 L798,737 L815,720 L831,703 L845,684 L858,665 L870,646 L880,626 L889,605 L896,584 L902,564 L906,543 L908,522 L909,501 Z"/>
<g clip-path="url(#cnhole)">
<path d="M919,525 L918,504 L916,484 L912,464 L906,445 L899,426 L890,408 L880,391 L868,374 L855,359 L841,344 L825,331 L808,318 L790,307 L771,298 L752,289 L731,282 L709,276 L687,272 L665,269 L642,267 L618,267 L595,269 L571,272 L548,276 L524,281 L501,288 L478,297 L456,307 L434,318 L413,330 L392,343 L373,357 L355,373 L337,389 L321,406 L306,424 L292,443 L280,462 L269,482 L259,503 L251,523 L245,544 L240,565 L237,586 L235,607 L235,627 L237,648 L240,668 L245,688 L251,707 L259,725 L269,743 L280,760 L292,776 L306,791 L321,805 L337,818 L355,829 L373,840 L392,849 L413,857 L434,863 L456,868 L478,872 L501,874 L524,875 L548,874 L571,872 L595,869 L618,864 L642,857 L665,850 L687,840 L709,830 L731,819 L752,806 L771,792 L790,777 L808,761 L825,744 L841,727 L855,708 L868,689 L880,670 L890,650 L899,629 L906,608 L912,588 L916,567 L918,546 L919,525 Z"/>
<path d="M929,549 L928,528 L926,508 L922,488 L916,469 L909,450 L900,432 L890,415 L878,398 L865,383 L851,368 L835,355 L818,342 L800,331 L781,322 L762,313 L741,306 L719,300 L697,296 L675,293 L652,291 L628,291 L605,293 L581,296 L558,300 L534,305 L511,312 L488,321 L466,331 L444,342 L423,354 L402,367 L383,381 L365,397 L347,413 L331,430 L316,448 L302,467 L290,486 L279,506 L269,527 L261,547 L255,568 L250,589 L247,610 L245,631 L245,651 L247,672 L250,692 L255,712 L261,731 L269,749 L279,767 L290,784 L302,800 L316,815 L331,829 L347,842 L365,853 L383,864 L402,873 L423,881 L444,887 L466,892 L488,896 L511,898 L534,899 L558,898 L581,896 L605,893 L628,888 L652,881 L675,874 L697,864 L719,854 L741,843 L762,830 L781,816 L800,801 L818,785 L835,768 L851,751 L865,732 L878,713 L890,694 L900,674 L909,653 L916,632 L922,612 L926,591 L928,570 L929,549 Z"/>
<path d="M939,573 L938,552 L936,532 L932,512 L926,493 L919,474 L910,456 L900,439 L888,422 L875,407 L861,392 L845,379 L828,366 L810,355 L791,346 L772,337 L751,330 L729,324 L707,320 L685,317 L662,315 L638,315 L615,317 L591,320 L568,324 L544,329 L521,336 L498,345 L476,355 L454,366 L433,378 L412,391 L393,405 L375,421 L357,437 L341,454 L326,472 L312,491 L300,510 L289,530 L279,551 L271,571 L265,592 L260,613 L257,634 L255,655 L255,675 L257,696 L260,716 L265,736 L271,755 L279,773 L289,791 L300,808 L312,824 L326,839 L341,853 L357,866 L375,877 L393,888 L412,897 L433,905 L454,911 L476,916 L498,920 L521,922 L544,923 L568,922 L591,920 L615,917 L638,912 L662,905 L685,898 L707,888 L729,878 L751,867 L772,854 L791,840 L810,825 L828,809 L845,792 L861,775 L875,756 L888,737 L900,718 L910,698 L919,677 L926,656 L932,636 L936,615 L938,594 L939,573 Z"/>
</g></g></defs>
<g transform="translate(750,830) scale(0.15825)"><use href="#castle" transform="translate(958,1274) scale(1.075) translate(-567,-547)"/><use href="#castle"/></g>
<!-- spring 11 (helix, painter order far->near) -->
<g fill="none" stroke-linejoin="round" stroke-linecap="butt">
<path d="M1072.8,1493.4C1073.4,1491.0 1074.2,1483.5 1076.2,1478.8C1078.2,1474.0 1081.2,1469.2 1084.7,1464.9C1088.3,1460.7 1095.6,1455.1 1097.8,1453.1" stroke="#000" stroke-width="19.6"/><path d="M1072.8,1493.4C1073.4,1490.9 1074.4,1483.1 1076.5,1478.1C1078.7,1473.2 1081.8,1468.2 1085.7,1463.8C1089.6,1459.4 1097.4,1453.8 1099.8,1451.7" stroke="#fff" stroke-width="15.6"/>
<path d="M1211.9,1467.8C1211.5,1470.8 1211.4,1479.8 1210.0,1485.5C1208.5,1491.3 1206.1,1497.1 1203.0,1502.4C1199.9,1507.7 1195.9,1512.8 1191.5,1517.2C1187.0,1521.7 1181.8,1525.8 1176.3,1529.2C1170.8,1532.6 1164.7,1535.4 1158.6,1537.5C1152.5,1539.6 1146.0,1541.0 1139.7,1541.7C1133.5,1542.3 1127.0,1542.2 1121.0,1541.5C1115.1,1540.7 1109.1,1539.2 1103.9,1537.1C1098.7,1535.0 1093.7,1532.2 1089.6,1528.9C1085.5,1525.7 1081.9,1521.8 1079.3,1517.6C1076.6,1513.5 1074.7,1508.8 1073.7,1504.2C1072.6,1499.5 1073.3,1492.0 1073.2,1489.6" stroke="#000" stroke-width="19.6"/><path d="M1211.9,1467.8C1211.5,1470.8 1211.4,1479.9 1209.9,1485.7C1208.4,1491.5 1205.9,1497.4 1202.8,1502.7C1199.7,1508.0 1195.6,1513.2 1191.0,1517.7C1186.5,1522.2 1181.2,1526.3 1175.6,1529.6C1170.0,1533.0 1163.8,1535.8 1157.6,1537.8C1151.4,1539.9 1144.8,1541.2 1138.5,1541.8C1132.2,1542.4 1125.6,1542.2 1119.6,1541.3C1113.7,1540.4 1107.7,1538.7 1102.5,1536.5C1097.3,1534.3 1092.4,1531.3 1088.4,1527.9C1084.4,1524.6 1081.0,1520.5 1078.4,1516.3C1075.9,1512.0 1074.1,1507.2 1073.3,1502.5C1072.5,1497.7 1073.5,1490.1 1073.5,1487.7" stroke="#fff" stroke-width="15.6"/>
<path d="M1153.0,1404.7C1156.3,1405.9 1166.6,1408.7 1172.7,1411.8C1178.7,1414.8 1184.5,1418.6 1189.4,1422.9C1194.3,1427.2 1198.6,1432.2 1202.0,1437.4C1205.4,1442.6 1208.1,1448.5 1209.7,1454.3C1211.3,1460.2 1211.5,1469.4 1211.9,1472.5" stroke="#000" stroke-width="19.6"/><path d="M1153.0,1404.7C1156.4,1405.9 1166.9,1408.8 1173.1,1412.0C1179.3,1415.1 1185.2,1419.1 1190.1,1423.6C1195.1,1428.0 1199.5,1433.2 1202.8,1438.6C1206.1,1444.0 1208.7,1450.1 1210.2,1456.1C1211.7,1462.1 1211.5,1471.7 1211.7,1474.8" stroke="#fff" stroke-width="15.6"/>
<path d="M1054.0,1458.5C1054.6,1456.0 1055.5,1448.5 1057.5,1443.7C1059.5,1438.9 1062.4,1434.1 1066.0,1429.8C1069.6,1425.5 1076.9,1419.8 1079.1,1417.8" stroke="#000" stroke-width="19.6"/><path d="M1054.0,1458.5C1054.6,1455.9 1055.6,1448.0 1057.7,1443.1C1059.9,1438.1 1063.1,1433.1 1067.0,1428.7C1070.9,1424.2 1078.8,1418.5 1081.1,1416.5" stroke="#fff" stroke-width="15.6"/>
<path d="M1194.0,1432.8C1193.7,1435.8 1193.6,1444.8 1192.1,1450.6C1190.6,1456.4 1188.2,1462.2 1185.1,1467.6C1182.0,1472.9 1178.0,1478.0 1173.5,1482.5C1169.0,1487.0 1163.7,1491.2 1158.2,1494.5C1152.7,1497.9 1146.5,1500.8 1140.4,1502.9C1134.3,1505.0 1127.7,1506.4 1121.4,1507.1C1115.1,1507.7 1108.6,1507.6 1102.6,1506.9C1096.5,1506.1 1090.6,1504.6 1085.3,1502.4C1080.0,1500.3 1075.1,1497.5 1070.9,1494.2C1066.8,1490.9 1063.2,1487.0 1060.5,1482.9C1057.9,1478.7 1055.9,1474.0 1054.9,1469.3C1053.8,1464.6 1054.5,1457.0 1054.4,1454.6" stroke="#000" stroke-width="19.6"/><path d="M1194.0,1432.8C1193.7,1435.8 1193.6,1445.0 1192.0,1450.8C1190.5,1456.7 1188.0,1462.6 1184.9,1467.9C1181.7,1473.3 1177.6,1478.5 1173.0,1483.0C1168.5,1487.5 1163.1,1491.6 1157.5,1495.0C1151.9,1498.4 1145.6,1501.2 1139.4,1503.2C1133.2,1505.3 1126.5,1506.6 1120.1,1507.2C1113.8,1507.8 1107.2,1507.6 1101.2,1506.7C1095.1,1505.8 1089.2,1504.1 1083.9,1501.9C1078.7,1499.6 1073.8,1496.6 1069.7,1493.2C1065.7,1489.8 1062.2,1485.7 1059.7,1481.5C1057.1,1477.2 1055.4,1472.4 1054.5,1467.6C1053.7,1462.8 1054.7,1455.1 1054.7,1452.7" stroke="#fff" stroke-width="15.6"/>
<path d="M1134.8,1369.4C1138.1,1370.5 1148.5,1373.4 1154.6,1376.4C1160.7,1379.5 1166.5,1383.3 1171.4,1387.6C1176.3,1391.9 1180.7,1397.0 1184.1,1402.2C1187.5,1407.5 1190.2,1413.4 1191.8,1419.2C1193.5,1425.1 1193.6,1434.4 1194.0,1437.5" stroke="#000" stroke-width="19.6"/><path d="M1134.8,1369.4C1138.2,1370.6 1148.8,1373.5 1155.0,1376.7C1161.3,1379.8 1167.2,1383.8 1172.2,1388.3C1177.1,1392.8 1181.5,1398.0 1184.9,1403.4C1188.2,1408.9 1190.8,1415.0 1192.3,1421.0C1193.8,1427.1 1193.6,1436.7 1193.9,1439.8" stroke="#fff" stroke-width="15.6"/>
<path d="M1035.2,1423.5C1035.8,1421.0 1036.7,1413.4 1038.7,1408.6C1040.7,1403.8 1043.6,1399.0 1047.3,1394.6C1050.9,1390.3 1058.3,1384.6 1060.5,1382.6" stroke="#000" stroke-width="19.6"/><path d="M1035.2,1423.5C1035.8,1420.9 1036.8,1413.0 1038.9,1408.0C1041.1,1403.0 1044.3,1397.9 1048.3,1393.5C1052.2,1389.0 1060.1,1383.3 1062.5,1381.2" stroke="#fff" stroke-width="15.6"/>
<path d="M1176.1,1397.8C1175.8,1400.8 1175.7,1409.9 1174.2,1415.7C1172.7,1421.5 1170.3,1427.4 1167.1,1432.8C1164.0,1438.1 1160.0,1443.3 1155.5,1447.8C1151.0,1452.3 1145.7,1456.5 1140.1,1459.9C1134.6,1463.3 1128.4,1466.2 1122.2,1468.3C1116.0,1470.4 1109.4,1471.8 1103.0,1472.5C1096.7,1473.1 1090.1,1473.0 1084.1,1472.3C1078.0,1471.5 1072.0,1469.9 1066.7,1467.8C1061.4,1465.7 1056.4,1462.8 1052.3,1459.5C1048.1,1456.2 1044.5,1452.2 1041.8,1448.1C1039.1,1443.9 1037.1,1439.2 1036.1,1434.4C1035.0,1429.7 1035.7,1422.1 1035.6,1419.6" stroke="#000" stroke-width="19.6"/><path d="M1176.1,1397.8C1175.8,1400.8 1175.7,1410.0 1174.2,1415.9C1172.6,1421.8 1170.1,1427.7 1166.9,1433.1C1163.7,1438.5 1159.6,1443.7 1155.0,1448.2C1150.4,1452.8 1145.0,1456.9 1139.4,1460.3C1133.7,1463.7 1127.4,1466.6 1121.2,1468.6C1114.9,1470.7 1108.2,1472.0 1101.8,1472.6C1095.4,1473.2 1088.8,1473.0 1082.7,1472.1C1076.6,1471.2 1070.6,1469.5 1065.3,1467.2C1060.1,1465.0 1055.1,1461.9 1051.1,1458.5C1047.0,1455.1 1043.5,1451.0 1040.9,1446.7C1038.4,1442.4 1036.6,1437.5 1035.7,1432.7C1034.9,1427.8 1035.9,1420.2 1035.9,1417.7" stroke="#fff" stroke-width="15.6"/>
<path d="M1116.6,1334.0C1119.9,1335.2 1130.3,1338.0 1136.5,1341.1C1142.6,1344.2 1148.5,1348.0 1153.4,1352.4C1158.4,1356.7 1162.8,1361.7 1166.2,1367.0C1169.6,1372.3 1172.3,1378.2 1174.0,1384.1C1175.6,1390.1 1175.8,1399.4 1176.1,1402.5" stroke="#000" stroke-width="19.6"/><path d="M1116.6,1334.0C1120.0,1335.2 1130.7,1338.2 1136.9,1341.3C1143.2,1344.5 1149.2,1348.5 1154.2,1353.0C1159.2,1357.5 1163.6,1362.8 1167.0,1368.3C1170.4,1373.8 1172.9,1379.9 1174.4,1386.0C1175.9,1392.1 1175.8,1401.7 1176.0,1404.8" stroke="#fff" stroke-width="15.6"/>
<path d="M1016.4,1388.6C1017.0,1386.1 1017.9,1378.4 1019.9,1373.6C1021.9,1368.7 1024.9,1363.8 1028.5,1359.5C1032.2,1355.1 1039.6,1349.4 1041.8,1347.4" stroke="#000" stroke-width="19.6"/><path d="M1016.4,1388.6C1017.0,1386.0 1018.0,1378.0 1020.2,1372.9C1022.3,1367.9 1025.6,1362.8 1029.5,1358.3C1033.5,1353.8 1041.4,1348.0 1043.8,1346.0" stroke="#fff" stroke-width="15.6"/>
<path d="M1158.3,1362.8C1157.9,1365.8 1157.8,1375.0 1156.3,1380.8C1154.8,1386.7 1152.4,1392.6 1149.2,1397.9C1146.1,1403.3 1142.0,1408.5 1137.5,1413.1C1132.9,1417.6 1127.6,1421.8 1122.0,1425.2C1116.4,1428.7 1110.2,1431.6 1104.0,1433.7C1097.7,1435.8 1091.1,1437.2 1084.7,1437.9C1078.3,1438.5 1071.7,1438.4 1065.6,1437.7C1059.5,1436.9 1053.5,1435.3 1048.1,1433.2C1042.8,1431.0 1037.8,1428.1 1033.6,1424.8C1029.4,1421.5 1025.8,1417.5 1023.0,1413.3C1020.3,1409.1 1018.3,1404.3 1017.3,1399.5C1016.2,1394.8 1016.9,1387.1 1016.8,1384.6" stroke="#000" stroke-width="19.6"/><path d="M1158.3,1362.8C1157.9,1365.8 1157.8,1375.1 1156.3,1381.0C1154.7,1386.9 1152.2,1392.9 1149.0,1398.3C1145.8,1403.7 1141.6,1409.0 1137.0,1413.5C1132.4,1418.1 1126.9,1422.3 1121.3,1425.7C1115.6,1429.1 1109.2,1431.9 1102.9,1434.0C1096.6,1436.1 1089.9,1437.4 1083.4,1438.0C1077.0,1438.6 1070.3,1438.4 1064.2,1437.5C1058.1,1436.6 1052.1,1434.9 1046.7,1432.6C1041.4,1430.3 1036.5,1427.2 1032.4,1423.8C1028.3,1420.3 1024.7,1416.2 1022.2,1411.9C1019.6,1407.5 1017.8,1402.7 1016.9,1397.8C1016.1,1392.9 1017.1,1385.2 1017.1,1382.7" stroke="#fff" stroke-width="15.6"/>
<path d="M1098.4,1298.6C1101.7,1299.8 1112.2,1302.7 1118.4,1305.8C1124.6,1308.8 1130.4,1312.7 1135.4,1317.1C1140.4,1321.4 1144.8,1326.5 1148.3,1331.9C1151.7,1337.2 1154.4,1343.1 1156.1,1349.1C1157.8,1355.0 1157.9,1364.4 1158.3,1367.5" stroke="#000" stroke-width="19.6"/><path d="M1098.4,1298.6C1101.8,1299.9 1112.6,1302.8 1118.9,1306.0C1125.2,1309.2 1131.1,1313.3 1136.2,1317.8C1141.2,1322.3 1145.7,1327.6 1149.1,1333.1C1152.5,1338.6 1155.1,1344.8 1156.6,1350.9C1158.1,1357.0 1157.9,1366.7 1158.2,1369.9" stroke="#fff" stroke-width="15.6"/>
<path d="M997.6,1353.6C998.2,1351.1 999.1,1343.4 1001.1,1338.5C1003.1,1333.6 1006.1,1328.7 1009.8,1324.3C1013.5,1319.9 1020.9,1314.2 1023.2,1312.1" stroke="#000" stroke-width="19.6"/><path d="M997.6,1353.6C998.2,1351.0 999.2,1342.9 1001.4,1337.9C1003.6,1332.8 1006.8,1327.7 1010.8,1323.2C1014.8,1318.6 1022.8,1312.8 1025.2,1310.7" stroke="#fff" stroke-width="15.6"/>
<path d="M1140.4,1327.8C1140.1,1330.8 1140.0,1340.0 1138.5,1345.9C1136.9,1351.8 1134.5,1357.7 1131.3,1363.1C1128.1,1368.5 1124.0,1373.8 1119.5,1378.4C1114.9,1382.9 1109.5,1387.1 1103.9,1390.6C1098.3,1394.0 1092.0,1396.9 1085.7,1399.0C1079.5,1401.2 1072.8,1402.6 1066.3,1403.3C1059.9,1403.9 1053.3,1403.8 1047.1,1403.0C1041.0,1402.3 1034.9,1400.7 1029.6,1398.5C1024.2,1396.4 1019.1,1393.4 1014.9,1390.1C1010.7,1386.8 1007.0,1382.7 1004.3,1378.5C1001.5,1374.2 999.5,1369.5 998.5,1364.6C997.4,1359.8 998.1,1352.1 998.0,1349.7" stroke="#000" stroke-width="19.6"/><path d="M1140.4,1327.8C1140.1,1330.8 1140.0,1340.2 1138.4,1346.1C1136.9,1352.1 1134.3,1358.0 1131.1,1363.5C1127.8,1368.9 1123.7,1374.2 1119.0,1378.8C1114.4,1383.4 1108.9,1387.6 1103.2,1391.0C1097.4,1394.5 1091.0,1397.3 1084.7,1399.4C1078.4,1401.4 1071.6,1402.8 1065.1,1403.4C1058.6,1404.0 1051.9,1403.8 1045.7,1402.8C1039.6,1401.9 1033.5,1400.2 1028.2,1397.9C1022.8,1395.6 1017.8,1392.6 1013.7,1389.1C1009.6,1385.6 1006.0,1381.4 1003.4,1377.1C1000.8,1372.7 999.0,1367.8 998.1,1362.9C997.3,1358.0 998.3,1350.2 998.3,1347.7" stroke="#fff" stroke-width="15.6"/>
<path d="M1080.2,1263.3C1083.6,1264.5 1094.1,1267.4 1100.3,1270.4C1106.5,1273.5 1112.4,1277.5 1117.4,1281.8C1122.4,1286.2 1126.9,1291.3 1130.4,1296.7C1133.8,1302.0 1136.5,1308.0 1138.2,1314.0C1139.9,1319.9 1140.1,1329.4 1140.4,1332.5" stroke="#000" stroke-width="19.6"/><path d="M1080.2,1263.3C1083.6,1264.5 1094.4,1267.5 1100.8,1270.7C1107.1,1273.9 1113.1,1278.0 1118.2,1282.5C1123.3,1287.0 1127.7,1292.4 1131.2,1297.9C1134.6,1303.5 1137.2,1309.6 1138.7,1315.8C1140.2,1322.0 1140.0,1331.7 1140.3,1334.9" stroke="#fff" stroke-width="15.6"/>
<path d="M978.8,1318.7C979.4,1316.1 980.3,1308.4 982.3,1303.5C984.4,1298.5 987.4,1293.6 991.1,1289.2C994.8,1284.7 1002.3,1278.9 1004.5,1276.9" stroke="#000" stroke-width="19.6"/><path d="M978.8,1318.7C979.4,1316.0 980.4,1307.9 982.6,1302.8C984.8,1297.7 988.1,1292.5 992.1,1288.0C996.1,1283.4 1004.1,1277.6 1006.5,1275.5" stroke="#fff" stroke-width="15.6"/>
<path d="M1122.5,1292.8C1122.2,1295.8 1122.1,1305.1 1120.6,1311.0C1119.1,1316.9 1116.6,1322.9 1113.4,1328.3C1110.2,1333.8 1106.1,1339.0 1101.5,1343.6C1096.9,1348.2 1091.4,1352.5 1085.8,1355.9C1080.1,1359.4 1073.8,1362.3 1067.5,1364.4C1061.2,1366.6 1054.5,1368.0 1048.0,1368.7C1041.5,1369.3 1034.8,1369.2 1028.7,1368.4C1022.5,1367.6 1016.4,1366.0 1011.0,1363.9C1005.6,1361.7 1000.5,1358.7 996.2,1355.4C992.0,1352.0 988.3,1348.0 985.5,1343.7C982.8,1339.4 980.8,1334.6 979.7,1329.8C978.6,1324.9 979.3,1317.2 979.2,1314.7" stroke="#000" stroke-width="19.6"/><path d="M1122.5,1292.8C1122.2,1295.8 1122.1,1305.2 1120.5,1311.2C1119.0,1317.2 1116.4,1323.2 1113.2,1328.7C1109.9,1334.2 1105.7,1339.5 1101.0,1344.1C1096.3,1348.7 1090.8,1352.9 1085.0,1356.4C1079.3,1359.8 1072.9,1362.7 1066.5,1364.8C1060.1,1366.8 1053.2,1368.2 1046.7,1368.8C1040.2,1369.4 1033.4,1369.2 1027.2,1368.2C1021.1,1367.3 1014.9,1365.6 1009.6,1363.3C1004.2,1361.0 999.1,1357.9 995.0,1354.4C990.8,1350.9 987.3,1346.7 984.6,1342.3C982.0,1337.9 980.2,1332.9 979.4,1328.0C978.5,1323.1 979.5,1315.2 979.5,1312.7" stroke="#fff" stroke-width="15.6"/>
<path d="M1062.0,1227.9C1065.4,1229.1 1076.0,1232.0 1082.2,1235.1C1088.4,1238.2 1094.4,1242.2 1099.4,1246.6C1104.5,1251.0 1109.0,1256.1 1112.5,1261.5C1115.9,1266.9 1118.7,1272.9 1120.3,1278.9C1122.0,1284.9 1122.2,1294.4 1122.6,1297.6" stroke="#000" stroke-width="19.6"/><path d="M1062.0,1227.9C1065.4,1229.2 1076.3,1232.1 1082.7,1235.4C1089.1,1238.6 1095.1,1242.7 1100.2,1247.2C1105.3,1251.8 1109.8,1257.2 1113.2,1262.7C1116.7,1268.3 1119.3,1274.5 1120.8,1280.7C1122.4,1286.9 1122.2,1296.7 1122.4,1299.9" stroke="#fff" stroke-width="15.6"/>
<path d="M960.0,1283.7C960.6,1281.1 961.5,1273.3 963.5,1268.4C965.6,1263.4 968.6,1258.5 972.3,1254.0C976.1,1249.5 983.6,1243.7 985.8,1241.6" stroke="#000" stroke-width="19.6"/><path d="M960.0,1283.7C960.6,1281.0 961.6,1272.9 963.8,1267.7C966.0,1262.6 969.3,1257.4 973.3,1252.8C977.3,1248.2 985.5,1242.3 987.9,1240.2" stroke="#fff" stroke-width="15.6"/>
<path d="M1104.6,1257.6C1104.3,1260.7 1104.2,1270.0 1102.6,1276.0C1101.1,1281.9 1098.6,1287.9 1095.4,1293.4C1092.2,1298.9 1088.0,1304.2 1083.4,1308.8C1078.8,1313.5 1073.3,1317.7 1067.7,1321.2C1062.0,1324.7 1055.6,1327.6 1049.3,1329.8C1042.9,1331.9 1036.2,1333.4 1029.6,1334.1C1023.1,1334.7 1016.4,1334.6 1010.2,1333.8C1004.0,1333.0 997.8,1331.4 992.4,1329.2C986.9,1327.0 981.8,1324.1 977.5,1320.7C973.3,1317.3 969.6,1313.2 966.8,1308.9C964.0,1304.6 962.0,1299.8 960.9,1294.9C959.8,1290.0 960.5,1282.2 960.4,1279.7" stroke="#000" stroke-width="19.6"/><path d="M1104.6,1257.6C1104.3,1260.7 1104.1,1270.1 1102.6,1276.2C1101.0,1282.2 1098.4,1288.2 1095.2,1293.8C1091.9,1299.3 1087.7,1304.6 1083.0,1309.3C1078.2,1313.9 1072.7,1318.2 1066.9,1321.7C1061.1,1325.1 1054.7,1328.0 1048.2,1330.1C1041.8,1332.2 1034.9,1333.6 1028.4,1334.2C1021.8,1334.8 1015.0,1334.6 1008.8,1333.6C1002.5,1332.7 996.4,1331.0 991.0,1328.6C985.6,1326.3 980.5,1323.2 976.3,1319.7C972.1,1316.1 968.5,1311.9 965.9,1307.5C963.3,1303.1 961.4,1298.1 960.6,1293.1C959.7,1288.1 960.7,1280.2 960.7,1277.7" stroke="#fff" stroke-width="15.6"/>
<path d="M940.9,1248.2C941.5,1245.7 942.4,1237.8 944.5,1232.8C946.6,1227.9 949.6,1222.9 953.4,1218.4C957.1,1213.9 961.8,1209.6 966.9,1206.0C972.1,1202.3 978.1,1199.1 984.4,1196.6C990.6,1194.1 997.5,1192.1 1004.4,1191.0C1011.3,1189.9 1018.6,1189.4 1025.7,1189.8C1032.7,1190.1 1040.0,1191.2 1046.8,1193.0C1053.5,1194.8 1060.2,1197.4 1066.2,1200.7C1072.2,1203.9 1077.9,1207.8 1082.7,1212.2C1087.5,1216.6 1091.7,1221.7 1095.0,1227.1C1098.4,1232.4 1100.9,1238.2 1102.5,1244.1C1104.1,1250.0 1104.3,1259.4 1104.6,1262.4" stroke="#000" stroke-width="19.6"/><path d="M940.9,1248.2C941.5,1245.6 942.4,1237.7 944.6,1232.7C946.7,1227.7 949.8,1222.6 953.6,1218.1C957.4,1213.6 962.2,1209.2 967.5,1205.6C972.7,1202.0 978.8,1198.7 985.2,1196.3C991.5,1193.8 998.5,1191.9 1005.5,1190.8C1012.5,1189.8 1019.9,1189.4 1027.1,1189.8C1034.2,1190.3 1041.5,1191.5 1048.3,1193.4C1055.1,1195.4 1061.8,1198.2 1067.8,1201.5C1073.7,1204.9 1079.3,1209.0 1084.1,1213.6C1088.8,1218.1 1092.9,1223.4 1096.1,1228.8C1099.3,1234.3 1101.7,1240.3 1103.1,1246.3C1104.5,1252.3 1104.2,1261.7 1104.5,1264.8" stroke="#fff" stroke-width="15.6"/>
<path d="M1086.9,1222.8C1086.5,1225.9 1086.4,1235.2 1084.8,1241.1C1083.2,1247.1 1080.7,1253.1 1077.4,1258.5C1074.2,1264.0 1070.0,1269.3 1065.3,1273.9C1060.6,1278.5 1055.1,1282.7 1049.3,1286.2C1043.6,1289.6 1037.2,1292.5 1030.8,1294.6C1024.4,1296.7 1017.5,1298.1 1010.9,1298.8C1004.4,1299.4 997.6,1299.4 991.4,1298.6C985.1,1297.8 978.9,1296.1 973.5,1293.9C968.0,1291.7 962.8,1288.8 958.5,1285.4C954.3,1282.0 950.5,1277.9 947.7,1273.6C944.9,1269.2 942.9,1264.4 941.8,1259.5C940.8,1254.6 941.4,1246.7 941.3,1244.2" stroke="#000" stroke-width="19.6"/><path d="M1086.9,1222.8C1086.5,1225.9 1086.4,1235.3 1084.7,1241.3C1083.1,1247.3 1080.5,1253.4 1077.2,1258.9C1073.9,1264.4 1069.6,1269.7 1064.8,1274.3C1060.1,1278.9 1054.4,1283.2 1048.6,1286.6C1042.7,1290.1 1036.2,1292.9 1029.7,1295.0C1023.2,1297.0 1016.3,1298.3 1009.6,1298.9C1003.0,1299.5 996.2,1299.3 989.9,1298.4C983.7,1297.4 977.5,1295.7 972.0,1293.3C966.6,1291.0 961.5,1287.9 957.3,1284.3C953.1,1280.8 949.5,1276.6 946.8,1272.1C944.2,1267.7 942.3,1262.7 941.5,1257.7C940.6,1252.7 941.6,1244.7 941.7,1242.2" stroke="#fff" stroke-width="15.6"/>
<path d="M923.3,1215.4C923.9,1212.8 924.7,1204.9 926.8,1199.8C928.8,1194.7 931.9,1189.7 935.6,1185.1C939.3,1180.5 944.0,1176.1 949.2,1172.4C954.4,1168.7 960.4,1165.4 966.6,1162.8C972.9,1160.3 979.8,1158.2 986.7,1157.0C993.6,1155.8 1000.9,1155.3 1008.0,1155.6C1015.1,1155.9 1022.3,1156.9 1029.1,1158.7C1035.9,1160.5 1042.6,1163.1 1048.6,1166.2C1054.6,1169.4 1060.2,1173.3 1065.0,1177.7C1069.9,1182.1 1074.1,1187.1 1077.4,1192.4C1080.7,1197.7 1083.3,1203.6 1084.8,1209.4C1086.4,1215.3 1086.5,1224.6 1086.9,1227.6" stroke="#000" stroke-width="19.6"/><path d="M923.3,1215.4C923.9,1212.8 924.8,1204.7 926.9,1199.6C928.9,1194.5 932.1,1189.4 935.9,1184.8C939.7,1180.2 944.4,1175.8 949.7,1172.1C955.0,1168.3 961.1,1165.0 967.4,1162.5C973.8,1159.9 980.8,1158.0 987.8,1156.8C994.8,1155.7 1002.2,1155.3 1009.4,1155.7C1016.5,1156.0 1023.9,1157.2 1030.7,1159.1C1037.5,1161.0 1044.2,1163.8 1050.1,1167.1C1056.1,1170.4 1061.7,1174.5 1066.5,1179.0C1071.2,1183.5 1075.3,1188.8 1078.5,1194.2C1081.6,1199.6 1084.0,1205.6 1085.4,1211.6C1086.7,1217.6 1086.5,1227.0 1086.7,1230.0" stroke="#fff" stroke-width="15.6"/>
<path d="M1071.7,1193.1C1071.3,1196.1 1071.1,1205.3 1069.4,1211.1C1067.8,1217.0 1065.1,1222.9 1061.8,1228.2C1058.5,1233.6 1054.2,1238.8 1049.4,1243.3C1044.7,1247.8 1039.1,1251.9 1033.2,1255.3C1027.4,1258.6 1020.8,1261.4 1014.3,1263.4C1007.8,1265.4 1000.9,1266.7 994.2,1267.3C987.6,1267.9 980.8,1267.8 974.5,1266.9C968.2,1266.0 961.9,1264.3 956.4,1262.1C950.8,1259.8 945.6,1256.8 941.3,1253.3C936.9,1249.8 933.1,1245.6 930.3,1241.2C927.5,1236.8 925.4,1231.9 924.3,1226.9C923.2,1221.9 923.8,1213.9 923.7,1211.3" stroke="#000" stroke-width="19.6"/><path d="M1071.7,1193.1C1071.3,1196.1 1071.0,1205.4 1069.4,1211.3C1067.7,1217.2 1065.0,1223.2 1061.6,1228.6C1058.2,1234.0 1053.8,1239.2 1049.0,1243.7C1044.1,1248.3 1038.4,1252.4 1032.4,1255.7C1026.5,1259.1 1019.9,1261.8 1013.3,1263.8C1006.7,1265.7 999.6,1266.9 992.9,1267.4C986.2,1267.9 979.3,1267.7 973.0,1266.7C966.7,1265.7 960.4,1263.9 954.9,1261.5C949.4,1259.1 944.3,1255.8 940.0,1252.2C935.7,1248.6 932.1,1244.3 929.4,1239.8C926.7,1235.2 924.8,1230.1 923.9,1225.1C923.0,1220.0 924.0,1211.9 924.0,1209.3" stroke="#fff" stroke-width="15.6"/>
<path d="M909.6,1189.9C910.1,1187.2 910.9,1179.1 912.9,1173.9C914.9,1168.7 917.9,1163.4 921.6,1158.7C925.2,1154.0 929.9,1149.5 935.0,1145.6C940.1,1141.8 946.1,1138.3 952.3,1135.6C958.5,1132.9 965.4,1130.8 972.3,1129.4C979.1,1128.1 986.4,1127.5 993.5,1127.6C1000.5,1127.8 1007.8,1128.7 1014.5,1130.4C1021.3,1132.0 1027.9,1134.5 1033.9,1137.5C1039.9,1140.6 1045.5,1144.4 1050.3,1148.7C1055.0,1153.0 1059.3,1158.0 1062.5,1163.1C1065.8,1168.3 1068.3,1174.1 1069.8,1179.9C1071.3,1185.7 1071.3,1194.8 1071.6,1197.8" stroke="#000" stroke-width="19.6"/><path d="M909.6,1189.9C910.1,1187.2 910.9,1178.9 912.9,1173.7C915.0,1168.4 918.0,1163.1 921.8,1158.4C925.6,1153.7 930.3,1149.1 935.5,1145.2C940.7,1141.4 946.8,1137.9 953.1,1135.2C959.4,1132.6 966.4,1130.5 973.4,1129.2C980.4,1127.9 987.8,1127.4 994.9,1127.7C1002.0,1127.9 1009.3,1129.0 1016.1,1130.8C1022.8,1132.5 1029.5,1135.2 1035.5,1138.4C1041.4,1141.6 1047.0,1145.6 1051.7,1150.0C1056.3,1154.4 1060.4,1159.5 1063.6,1164.9C1066.7,1170.2 1069.0,1176.1 1070.3,1182.0C1071.6,1187.9 1071.3,1197.1 1071.5,1200.2" stroke="#fff" stroke-width="15.6"/>
<circle cx="1042.0" cy="1128.9" r="8.8" fill="#fff" stroke="#000" stroke-width="2"/>
<path d="M1042.0,1128.9C1043.8,1131.3 1050.0,1138.3 1052.7,1143.5C1055.5,1148.7 1057.6,1154.3 1058.7,1160.0C1059.8,1165.6 1060.1,1171.6 1059.5,1177.4C1059.0,1183.2 1057.5,1189.1 1055.2,1194.6C1053.0,1200.2 1049.8,1205.6 1046.0,1210.6C1042.3,1215.5 1037.7,1220.2 1032.7,1224.3C1027.7,1228.3 1022.0,1231.9 1016.1,1234.8C1010.2,1237.7 1003.7,1240.0 997.3,1241.6C990.9,1243.2 984.1,1244.1 977.7,1244.3C971.2,1244.5 964.6,1243.9 958.5,1242.7C952.4,1241.5 946.5,1239.5 941.2,1237.1C935.9,1234.6 930.9,1231.3 926.8,1227.8C922.6,1224.2 919.0,1219.9 916.3,1215.5C913.6,1211.0 911.6,1206.1 910.6,1201.1C909.5,1196.2 910.0,1188.3 909.9,1185.7" stroke="#000" stroke-width="19.6"/><path d="M1042.0,1128.9C1043.8,1131.3 1050.0,1138.4 1052.8,1143.6C1055.6,1148.8 1057.7,1154.6 1058.8,1160.3C1059.9,1166.0 1060.1,1172.1 1059.5,1177.9C1058.9,1183.7 1057.3,1189.7 1055.0,1195.2C1052.6,1200.8 1049.4,1206.3 1045.5,1211.3C1041.7,1216.2 1037.0,1220.9 1031.9,1224.9C1026.8,1228.9 1020.9,1232.5 1014.9,1235.4C1008.9,1238.2 1002.4,1240.4 995.9,1241.9C989.4,1243.4 982.6,1244.2 976.1,1244.3C969.6,1244.4 962.9,1243.7 956.9,1242.4C950.8,1241.0 944.8,1238.9 939.6,1236.3C934.4,1233.7 929.5,1230.3 925.4,1226.6C921.4,1222.8 917.9,1218.4 915.4,1213.9C912.9,1209.3 911.1,1204.3 910.2,1199.2C909.3,1194.2 910.2,1186.2 910.2,1183.6" stroke="#fff" stroke-width="15.6"/>
</g>
<!-- FWD arrow : F coords 11.736x of 190,1975 -->
<g transform="translate(190,1975) scale(0.085209)" fill="none" stroke="#000" stroke-linejoin="miter">
 <path fill="#fff" stroke-width="3.2" d="M595,430 L700,495 L700,560 L1290,235 L1395,290 L1395,780 L700,1170 L700,1350 L195,1065 Z"/>
 <path stroke-width="3.2" d="M692,495 L692,690"/>
 <path stroke-width="1.3" d="M705,685 L1368,305 M675,515 L305,1105"/>
</g>
<text transform="matrix(0.65,-0.35,0,1,246.4,2070.6)" style="font-family:'Liberation Sans',sans-serif;font-size:38px;font-weight:bold;stroke:#000;stroke-width:1.1px;stroke-linejoin:round" x="0" y="0">FWD</text>

<!-- dashed group outlines -->
<g class="d">
<path d="M453.5,181.7 H1245.5 V1043 L1549,1216 V2142.7 H1477 L1116.5,1943.7 L993,2146 H470 V1584 L153.6,1402 V455.6 H286.5 L453.5,181.7"/>
<path d="M445,242 H814 L1177,452 V976 L818,1199 L1034.7,1616.7 L1281,1489 L1455,1804 L1305,1891 L1295,1898 H1094.7 L981,2095 H763 L521.7,1954 V1534 L368.3,1449 V1123 H701 V906 L548,610 L543,598 L356,493 V385 L445,242"/>
</g>

<!-- centre lines & leaders -->
<g class="s">
<path d="M404.5,1145.3 L422.7,1177.8 M404.5,1145.3 L489.2,1193.6 M493.2,1196.3 L499.5,1199.1 M504.2,1201.5 L785.6,1359 L970.7,1703.1 M973.2,1708.6 L975.8,1713.3 M978.7,1718.8 L1048.5,1849.3 L1465.3,2083.7 L1422,2004.3"/>
<path d="M365,301.7 L405,323.3 M490,371.7 L525,391.7"/>
<path d="M598.3,435 L771.6,534.9 M777,537.9 L781.9,540.8 M787.2,543.7 L891.3,604"/>
<path d="M788,447.5 L834.4,474.6 M839.3,477.5 L844.7,480.9 M850,483.8 L898,511.3 L933,490.7 L973,512.7"/>
<path d="M1052.4,699.9 L1174.8,767.5 M1178.9,770.4 L1185.8,774.1 M1191.2,777.4 L1273.4,825.9"/>
<path d="M436.7,1646 L543.3,1707.7 M636.7,1761 L711.3,1804.3 M791.3,1849.3 L856.3,1886 M1013,1979.3 L1093,2026 M761.3,1781 L824.7,1819.3"/>
<!-- leaders -->
<path d="M248.3,253.3 L213.3,320 M323.3,313.3 L288.3,365 M428.3,375 L415,443.3 M482.7,405 L488.3,483.3 M421.7,686.7 L460,703.3"/>
<path d="M998,266.7 L954.7,321.7 M1038.7,460 L1034.7,500 M1114.7,506.7 L1093,571.7 M909.7,655 L869.7,698.3 M969.7,695 L936.3,736.7 M1028,726.7 L1003,769.3 M964.7,861.7 L911.3,888.3"/>
<path d="M1245.3,436 L1309.3,415.7 M1344.8,754.3 L1325.3,820.5 M1406.9,796.4 L1370.8,852.6 M1471.4,832.2 L1422.3,880"/>
<path d="M1034.7,957.7 L981.3,995.3 M1181.3,1196 L1118,1266"/>
<path d="M238.3,1559.3 L203.3,1640 M351.7,1634.3 L320,1707.7 M408.3,1672.7 L391.7,1751 M563.3,1761 L557.3,1842.7 M627.7,1797.7 L635.7,1887.7"/>
<path d="M861.3,1929.3 L814.7,1974.3 M931.3,1974.3 L886.3,2009.3 M983,2004.3 L944.7,2046 M1101.3,2072.7 L1059.7,2102.7 M1169.7,2101 L1124.7,2119.3 M1290.3,2086.7 L1265.3,2092.7"/>
</g>

<!-- labels -->
<g class="t">
<text transform="translate(200.0,351.0) scale(1.29,1)" x="0" y="0">13</text>
<text transform="translate(280.5,396.7) scale(1.29,1)" x="0" y="0">16</text>
<text transform="translate(417.5,475.0) scale(1.29,1)" x="0" y="0">7</text>
<text transform="translate(493.0,517.7) scale(1.29,1)" x="0" y="0">6</text>
<text transform="translate(392.5,690.7) scale(1.29,1)" x="0" y="0">12</text>
<text transform="translate(1010.5,260.0) scale(1.29,1)" x="0" y="0">2</text>
<text transform="translate(1039.7,451.7) scale(1.29,1)" x="0" y="0">4</text>
<text transform="translate(1116.0,495.7) scale(1.29,1)" x="0" y="0">3</text>
<text transform="translate(858.5,724.0) scale(1.29,1)" x="0" y="0">5</text>
<text transform="translate(929.2,764.0) scale(1.29,1)" x="0" y="0">6</text>
<text transform="translate(996.6,804.0) scale(1.29,1)" x="0" y="0">7</text>
<text transform="translate(984.4,860.7) scale(1.29,1)" x="0" y="0">8</text>
<text transform="translate(1323.5,419.3) scale(1.29,1)" x="0" y="0">1</text>
<text transform="translate(1347.0,744.0) scale(1.29,1)" x="0" y="0">16</text>
<text transform="translate(1413.7,782.3) scale(1.29,1)" x="0" y="0">14</text>
<text transform="translate(1478.7,820.7) scale(1.29,1)" x="0" y="0">15</text>
<text transform="translate(1052.7,960.0) scale(1.29,1)" x="0" y="0">9</text>
<text transform="translate(1198.3,1183.7) scale(1.29,1)" x="0" y="0">11</text>
<text transform="translate(191.3,1675.0) scale(1.29,1)" x="0" y="0">17</text>
<text transform="translate(307.5,1741.7) scale(1.29,1)" x="0" y="0">18</text>
<text transform="translate(382.5,1786.0) scale(1.29,1)" x="0" y="0">20</text>
<text transform="translate(554.1,1876.7) scale(1.29,1)" x="0" y="0">7</text>
<text transform="translate(637.9,1923.3) scale(1.29,1)" x="0" y="0">6</text>
<text transform="translate(800.2,2002.3) scale(1.29,1)" x="0" y="0">5</text>
<text transform="translate(876.8,2037.3) scale(1.29,1)" x="0" y="0">6</text>
<text transform="translate(931.0,2069.3) scale(1.29,1)" x="0" y="0">7</text>
<text transform="translate(1044.7,2131.7) scale(1.29,1)" x="0" y="0">20</text>
<text transform="translate(1103.3,2147.0) scale(1.29,1)" x="0" y="0">19</text>
<text transform="translate(1317.8,2091.7) scale(1.29,1)" x="0" y="0">15</text>
<text transform="translate(1517.0,2013.3) scale(1.29,1)" x="0" y="0">10</text>
</g>
<text transform="translate(152.7,2135) scale(1.275,1)" style="font-family:'Liberation Sans',sans-serif;font-size:27.5px" x="0" y="0">5FKE100-2201</text>
<g fill="#fff" stroke="none"><rect x="179.8" y="347.6" width="8.1" height="4.2"/><rect x="192.3" y="347.6" width="6.3" height="4.2"/><rect x="260.3" y="393.3" width="8.1" height="4.2"/><rect x="272.8" y="393.3" width="6.3" height="4.2"/><rect x="372.3" y="687.3" width="8.1" height="4.2"/><rect x="384.8" y="687.3" width="6.3" height="4.2"/><rect x="1314.4" y="415.9" width="8.1" height="4.2"/><rect x="1326.9" y="415.9" width="6.3" height="4.2"/><rect x="1326.8" y="740.6" width="8.1" height="4.2"/><rect x="1339.3" y="740.6" width="6.3" height="4.2"/><rect x="1393.5" y="778.9" width="8.1" height="4.2"/><rect x="1406.0" y="778.9" width="6.3" height="4.2"/><rect x="1458.5" y="817.3" width="8.1" height="4.2"/><rect x="1471.0" y="817.3" width="6.3" height="4.2"/><rect x="1178.1" y="1180.3" width="8.1" height="4.2"/><rect x="1190.6" y="1180.3" width="6.3" height="4.2"/><rect x="1200.3" y="1180.3" width="8.1" height="4.2"/><rect x="1212.8" y="1180.3" width="6.3" height="4.2"/><rect x="171.1" y="1671.6" width="8.1" height="4.2"/><rect x="183.6" y="1671.6" width="6.3" height="4.2"/><rect x="287.3" y="1738.3" width="8.1" height="4.2"/><rect x="299.8" y="1738.3" width="6.3" height="4.2"/><rect x="1083.1" y="2143.6" width="8.1" height="4.2"/><rect x="1095.6" y="2143.6" width="6.3" height="4.2"/><rect x="1297.6" y="2088.3" width="8.1" height="4.2"/><rect x="1310.1" y="2088.3" width="6.3" height="4.2"/><rect x="1496.8" y="2009.9" width="8.1" height="4.2"/><rect x="1509.3" y="2009.9" width="6.3" height="4.2"/><rect x="242.1" y="2132.0" width="7.1" height="3.8"/><rect x="253.1" y="2132.0" width="5.5" height="3.8"/><rect x="370.8" y="2132.0" width="7.1" height="3.8"/><rect x="381.8" y="2132.0" width="5.5" height="3.8"/></g>
</svg>
</body></html>
